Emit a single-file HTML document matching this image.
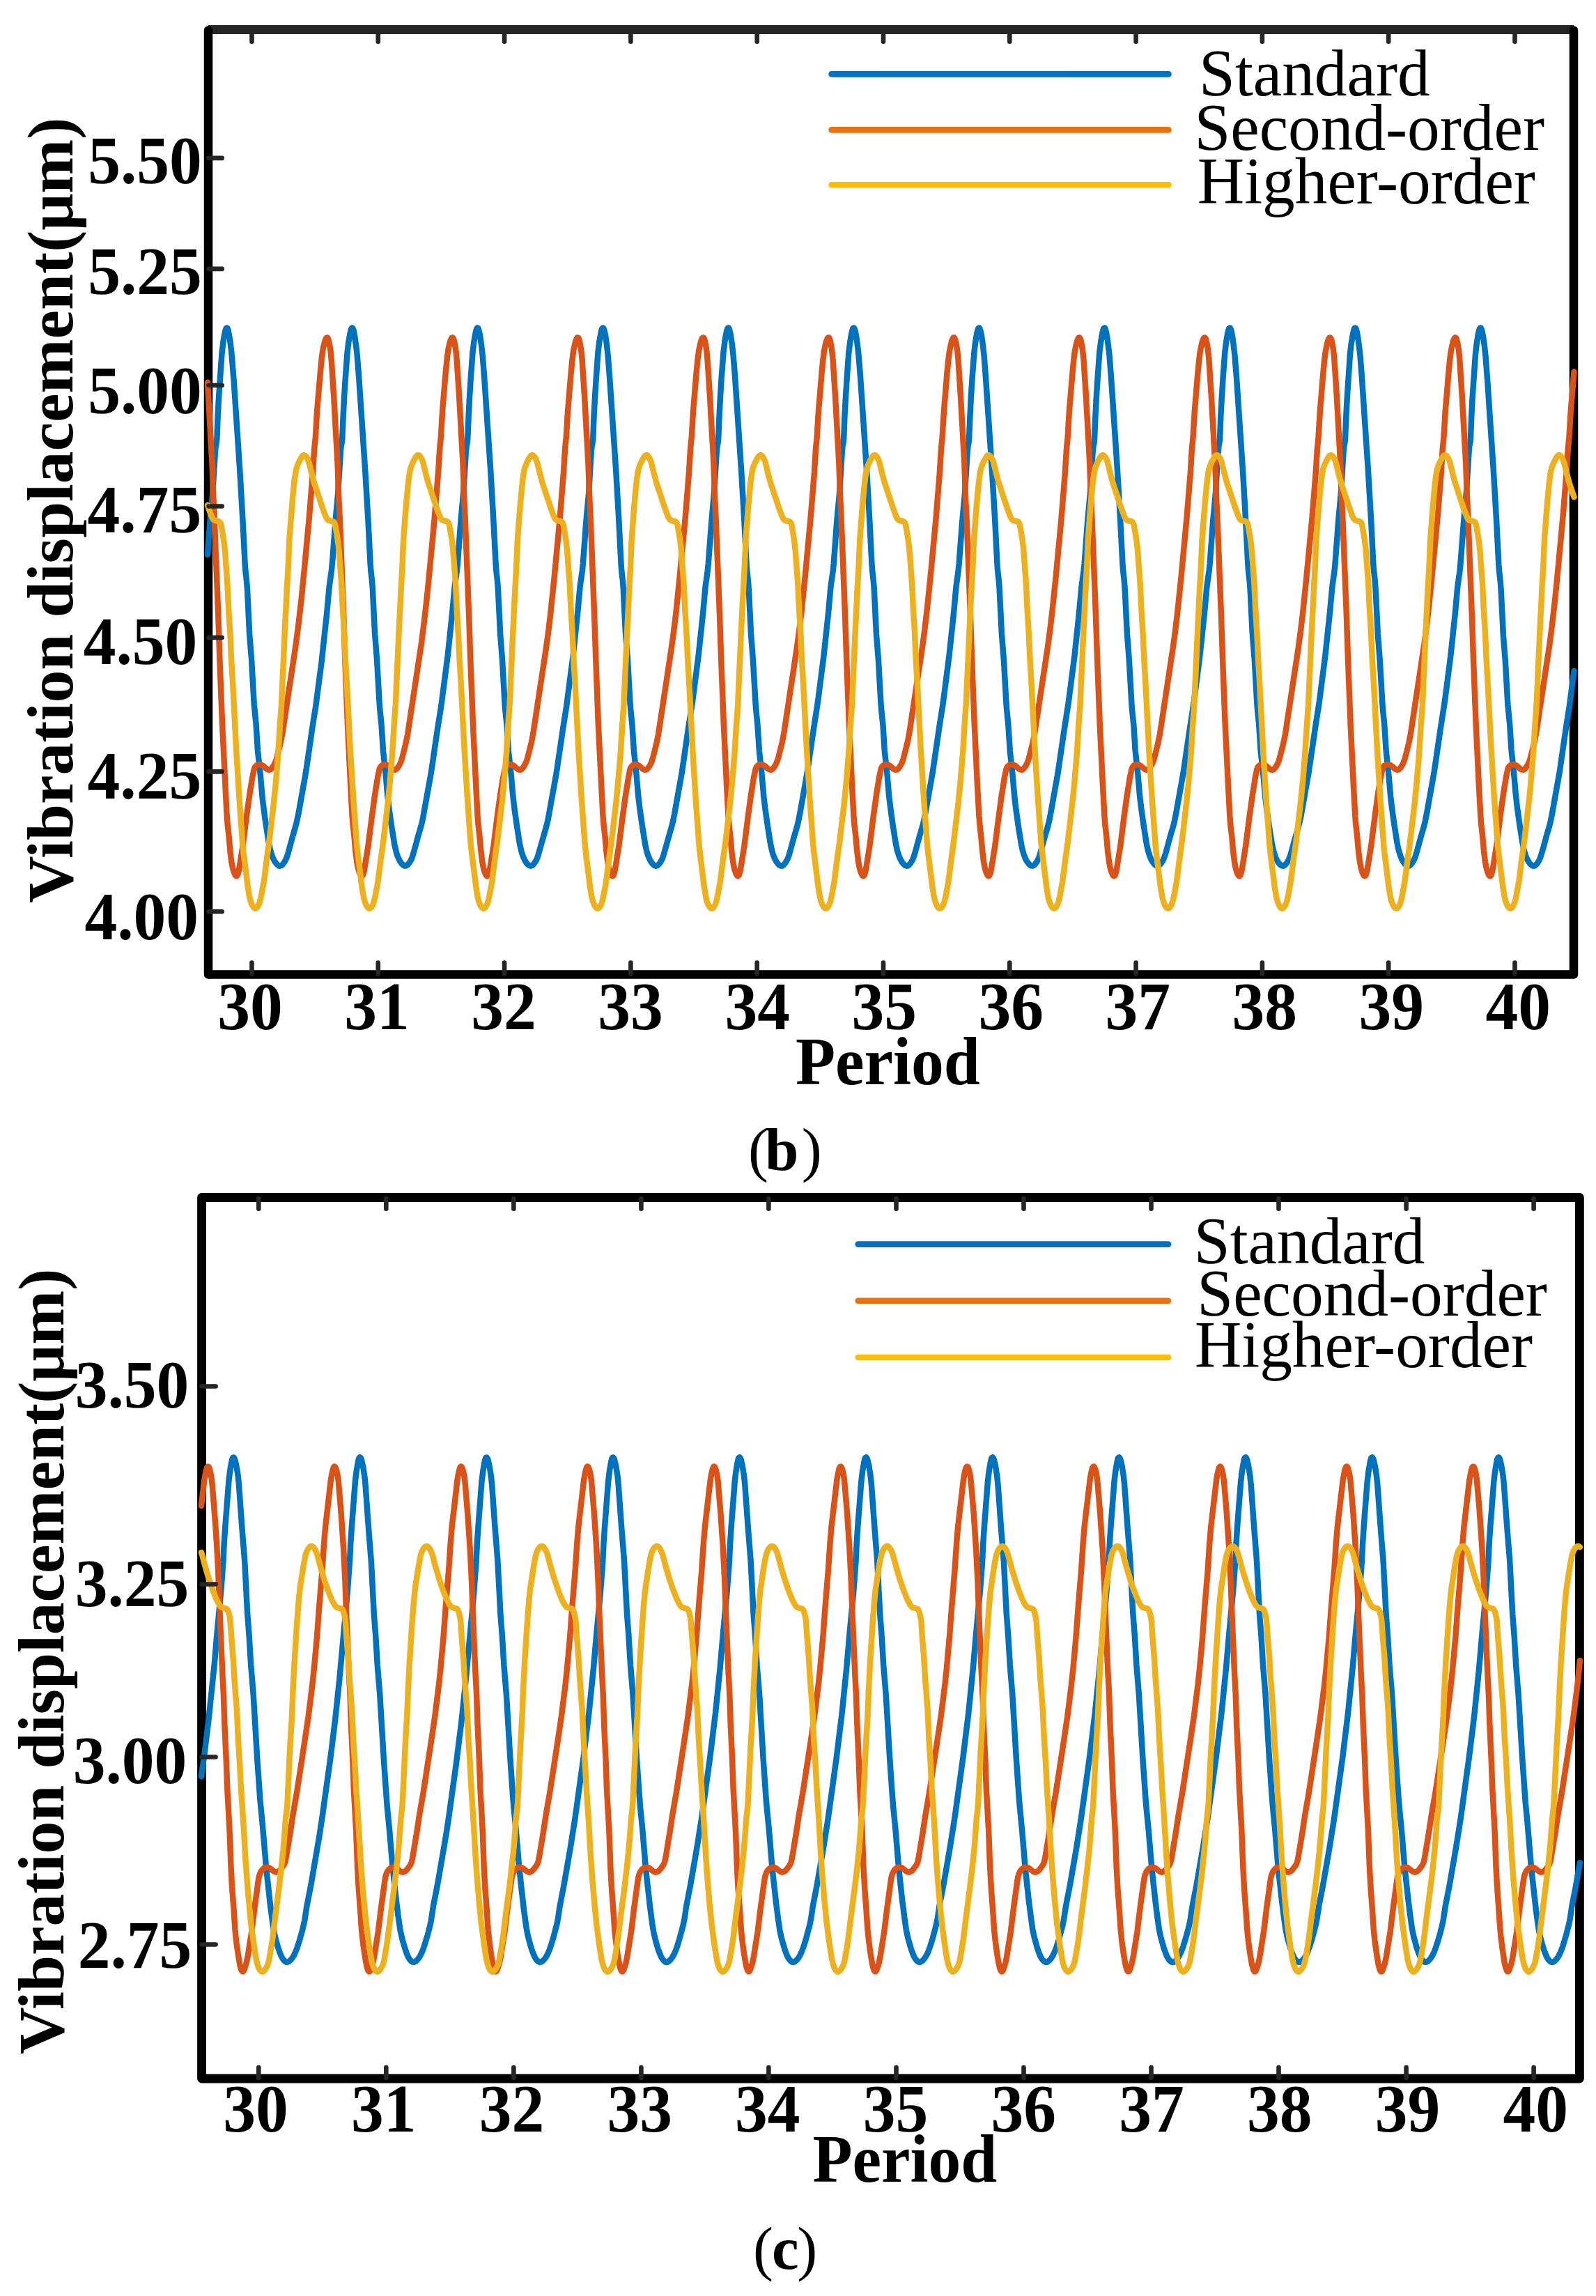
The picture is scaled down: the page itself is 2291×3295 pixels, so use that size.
<!DOCTYPE html>
<html><head><meta charset="utf-8"><title>Vibration displacement</title>
<style>html,body{margin:0;padding:0;background:#fff;overflow:hidden;}svg{display:block;}</style>
</head><body>
<svg xmlns="http://www.w3.org/2000/svg" width="2291" height="3295" viewBox="0 0 2291 3295">
<rect width="2291" height="3295" fill="#fff"/>
<line x1="299.0" y1="42.5" x2="2259.0" y2="42.5" stroke="#262626" stroke-width="12.8"/>
<path d="M299.0 43.5L299.0 1398.5L2259.0 1398.5L2259.0 43.5" fill="none" stroke="#000" stroke-width="12.5" stroke-linejoin="round" stroke-linecap="round"/>
<g fill="none" stroke-width="8.5" stroke-linejoin="round" stroke-linecap="round">
<path stroke="#0072BD" d="M298.0 795.9L301.6 746.5 305.1 709.2 308.9 649.0 309.6 641.1 310.9 634.0 311.4 629.7 312.6 598.0 314.1 569.8 318.5 506.7 320.8 488.1 322.3 479.7 323.6 473.9 324.6 471.3 325.2 470.7 325.7 470.6 326.2 470.8 326.7 471.6 327.7 474.5 329.8 486.0 332.1 503.6 335.7 547.0 344.3 675.2 348.4 745.8 351.6 808.5 352.3 818.2 354.1 834.6 354.9 843.8 358.1 909.3 361.1 946.9 364.7 1010.3 367.6 1039.6 370.0 1077.6 373.6 1109.9 376.7 1145.5 380.4 1174.5 385.9 1209.6 387.7 1218.4 390.1 1226.8 392.2 1232.1 394.4 1236.3 397.1 1239.9 399.7 1242.1 400.7 1242.6 401.8 1242.7 403.8 1242.2 405.8 1240.5 408.2 1237.3 411.0 1232.0 413.3 1225.4 420.3 1199.6 424.9 1183.8 428.2 1168.9 437.3 1118.2 439.9 1102.7 448.4 1044.0 453.2 1013.9 461.5 951.0 468.9 882.6 472.7 841.8 475.9 818.5 477.2 805.1 481.6 746.8 485.1 709.2 488.8 649.3 489.6 641.1 490.9 634.0 491.3 629.7 492.6 598.0 494.1 569.3 495.8 543.4 498.5 506.2 500.5 490.1 503.0 476.3 503.8 472.9 504.7 471.1 505.5 470.5 506.0 470.7 506.5 471.2 507.5 474.0 508.7 479.6 511.6 499.2 512.9 512.1 515.3 543.0 524.2 674.9 528.4 745.6 531.6 808.5 532.3 818.2 534.1 834.6 534.8 843.8 538.1 909.3 541.1 946.9 544.7 1010.0 545.4 1019.0 547.5 1039.6 550.0 1077.6 553.5 1109.9 556.5 1143.5 558.6 1161.6 562.2 1186.4 566.3 1212.0 568.8 1222.7 570.5 1228.0 572.4 1232.6 574.4 1236.3 576.5 1239.4 578.6 1241.4 580.7 1242.6 582.7 1242.6 584.7 1241.5 586.7 1239.4 588.9 1236.1 590.7 1232.7 592.2 1228.8 596.4 1214.1 600.4 1199.2 604.5 1185.2 606.7 1176.3 618.8 1109.3 628.3 1044.5 632.4 1019.1 634.1 1007.2 642.7 940.8 649.2 879.4 652.7 841.8 655.8 819.3 656.9 808.6 661.5 746.8 665.0 709.4 668.8 649.0 669.6 641.1 670.9 634.0 671.3 629.7 672.6 597.8 674.1 568.8 675.8 542.1 678.5 505.5 680.4 490.3 682.8 477.0 683.7 473.4 684.4 471.5 685.2 470.6 685.6 470.6 686.1 470.8 687.1 472.8 688.3 477.7 689.7 485.8 691.2 496.7 692.8 511.1 695.2 541.8 704.2 674.9 708.3 745.6 711.6 808.5 712.3 818.2 714.1 834.6 714.8 843.8 718.1 909.3 721.0 946.9 724.6 1010.0 725.3 1019.0 727.5 1039.6 729.9 1077.6 733.5 1109.9 736.4 1143.0 738.5 1160.6 741.9 1184.9 746.1 1211.5 748.4 1221.5 750.0 1226.8 751.7 1231.2 753.6 1235.0 755.6 1238.2 757.7 1240.6 759.8 1242.2 761.7 1242.7 763.7 1242.2 765.7 1240.5 768.1 1237.3 770.2 1233.6 771.9 1229.5 784.4 1185.5 786.5 1177.0 798.7 1109.6 808.3 1044.3 812.3 1019.4 813.9 1008.0 822.6 941.0 829.2 879.4 832.6 841.8 835.8 819.3 836.9 808.6 841.5 746.8 845.0 709.4 848.7 649.0 849.5 641.1 850.8 634.0 851.3 629.7 852.5 597.8 854.1 568.8 855.8 542.1 858.5 505.5 860.3 490.6 862.7 477.3 863.5 473.6 864.3 471.7 865.2 470.6 866.0 470.7 867.0 472.6 868.2 477.2 869.6 485.0 871.1 495.7 872.7 510.6 875.1 541.3 884.2 674.9 888.3 745.6 891.5 808.5 892.2 818.2 894.0 834.6 894.7 843.8 898.0 909.3 901.0 946.9 904.6 1010.0 905.3 1019.0 907.4 1039.6 909.9 1077.6 913.4 1109.9 916.3 1143.0 918.4 1160.6 921.8 1184.4 926.1 1211.3 928.2 1221.1 929.7 1226.1 931.4 1230.5 933.2 1234.4 935.1 1237.6 937.3 1240.3 939.3 1242.0 941.3 1242.7 943.2 1242.4 945.3 1240.9 947.8 1237.8 950.0 1233.9 951.8 1229.7 964.3 1185.7 966.3 1177.5 968.4 1166.9 978.7 1109.6 988.2 1044.3 993.9 1008.2 1002.6 941.0 1009.2 879.4 1012.6 841.8 1015.7 819.3 1016.8 808.6 1021.5 746.8 1024.9 709.4 1028.7 649.0 1029.5 641.1 1030.8 634.0 1031.2 629.7 1032.5 597.8 1034.0 568.8 1035.7 542.1 1038.5 505.5 1040.3 490.8 1042.5 477.8 1044.1 471.9 1045.0 470.7 1045.8 470.6 1046.4 471.2 1046.9 472.4 1048.0 476.4 1049.4 484.3 1050.9 494.7 1052.6 510.1 1055.1 540.8 1064.1 674.9 1068.3 745.6 1071.5 808.5 1072.2 818.2 1074.0 834.6 1074.7 843.8 1078.0 909.3 1080.9 946.9 1084.6 1010.0 1085.3 1019.0 1087.4 1039.6 1089.9 1077.6 1093.4 1109.9 1096.3 1142.7 1098.3 1160.1 1101.7 1183.9 1106.0 1211.0 1108.1 1220.6 1109.5 1225.6 1111.1 1230.1 1112.9 1233.9 1114.8 1237.2 1116.9 1239.9 1119.1 1241.9 1121.0 1242.7 1122.8 1242.6 1124.9 1241.2 1127.3 1238.4 1129.8 1234.3 1131.7 1230.0 1133.4 1224.5 1140.2 1199.6 1144.3 1185.7 1146.2 1177.7 1148.3 1167.2 1158.6 1109.6 1168.2 1044.3 1173.8 1008.5 1182.5 941.0 1189.1 879.4 1192.5 841.8 1195.7 819.3 1196.8 808.6 1201.4 746.8 1204.9 709.4 1208.7 649.0 1209.4 641.1 1210.7 634.0 1211.2 629.7 1212.4 597.8 1214.0 568.8 1215.7 542.6 1218.4 505.7 1220.2 491.3 1222.4 478.3 1224.0 472.1 1224.8 470.8 1225.6 470.6 1226.2 471.1 1226.8 472.2 1227.8 475.9 1229.2 483.3 1230.7 493.7 1232.5 509.6 1235.0 540.3 1244.1 674.9 1248.2 745.6 1251.4 808.5 1252.1 818.2 1253.9 834.6 1254.7 843.8 1257.9 909.3 1260.9 946.9 1264.5 1010.0 1265.2 1019.0 1267.4 1039.6 1269.8 1077.6 1273.4 1109.9 1276.2 1142.7 1278.3 1160.1 1281.6 1183.9 1285.9 1211.0 1288.0 1220.6 1289.5 1225.6 1291.1 1230.1 1292.9 1233.9 1294.7 1237.2 1296.9 1239.9 1299.1 1241.9 1301.0 1242.7 1302.7 1242.6 1304.9 1241.2 1307.3 1238.4 1309.7 1234.3 1311.6 1230.0 1313.3 1224.5 1320.1 1199.6 1324.2 1185.7 1326.2 1177.7 1328.3 1167.2 1338.6 1109.6 1348.2 1044.3 1353.8 1008.5 1362.5 941.0 1369.1 879.4 1372.5 841.8 1375.6 819.3 1376.7 808.6 1381.4 746.8 1384.9 709.4 1388.6 649.0 1389.4 641.1 1390.7 634.0 1391.1 629.7 1392.4 597.8 1393.9 568.8 1395.6 542.6 1398.4 505.7 1400.1 491.3 1402.3 478.3 1404.0 472.1 1404.8 470.8 1405.6 470.6 1406.2 471.1 1406.7 472.2 1407.8 475.9 1409.2 483.3 1410.7 493.7 1412.5 509.6 1414.9 540.3 1424.0 674.9 1428.2 745.6 1431.4 808.5 1432.1 818.2 1433.9 834.6 1434.6 843.8 1437.9 909.3 1440.9 946.9 1444.5 1010.0 1445.2 1019.0 1447.3 1039.6 1449.8 1077.6 1453.3 1109.9 1456.2 1142.5 1458.2 1159.9 1461.5 1183.6 1465.9 1211.0 1467.9 1220.3 1469.4 1225.4 1471.0 1229.8 1472.7 1233.7 1474.6 1237.0 1476.7 1239.7 1478.8 1241.7 1480.7 1242.6 1482.5 1242.6 1484.7 1241.4 1487.1 1238.6 1489.6 1234.5 1491.5 1230.2 1493.3 1224.5 1500.1 1199.6 1504.2 1185.7 1506.1 1178.0 1508.2 1167.2 1518.5 1109.8 1528.1 1044.3 1533.7 1008.7 1542.5 941.0 1549.0 879.4 1552.5 841.8 1555.6 819.3 1556.7 808.6 1561.3 746.8 1564.8 709.4 1568.6 649.0 1569.4 641.1 1570.7 634.0 1571.1 629.7 1572.4 597.8 1573.9 568.8 1575.6 542.6 1578.3 505.7 1580.1 491.3 1582.3 478.3 1583.9 472.1 1584.8 470.8 1585.6 470.6 1586.1 471.1 1586.7 472.2 1587.7 475.9 1589.1 483.3 1590.6 493.7 1592.5 509.6 1594.9 540.3 1604.0 674.9 1608.1 745.6 1611.4 808.5 1612.1 818.2 1613.9 834.6 1614.6 843.8 1617.9 909.3 1620.8 946.9 1624.4 1010.0 1625.1 1019.0 1627.3 1039.6 1629.7 1077.6 1633.3 1109.9 1636.1 1142.5 1638.2 1159.9 1641.5 1183.4 1645.8 1210.8 1647.8 1220.1 1650.8 1229.6 1652.5 1233.5 1654.4 1236.8 1656.5 1239.6 1658.6 1241.6 1660.4 1242.6 1662.2 1242.7 1663.3 1242.3 1664.5 1241.5 1666.9 1238.8 1669.4 1234.8 1671.4 1230.2 1673.3 1224.5 1680.0 1199.6 1684.1 1186.0 1686.0 1178.2 1688.2 1167.2 1698.5 1109.8 1708.1 1044.3 1713.6 1009.0 1722.4 941.0 1729.0 879.4 1732.4 841.8 1735.6 819.3 1736.7 808.6 1741.3 746.8 1744.8 709.4 1748.5 649.0 1749.3 641.1 1750.6 634.0 1751.1 629.7 1752.3 597.8 1753.9 568.8 1755.6 542.1 1758.3 505.5 1760.1 491.1 1762.3 478.0 1763.9 472.1 1764.7 470.8 1765.5 470.6 1766.1 471.1 1766.7 472.2 1767.7 475.9 1769.1 483.3 1770.6 493.7 1772.4 509.6 1774.9 540.3 1784.0 674.9 1788.1 745.6 1791.3 808.5 1792.0 818.2 1793.8 834.6 1794.5 843.8 1797.8 909.3 1800.8 946.9 1804.4 1010.0 1805.1 1019.0 1807.2 1039.6 1809.7 1077.6 1813.2 1109.9 1816.1 1142.5 1818.1 1159.9 1821.4 1183.4 1825.8 1210.8 1827.8 1220.1 1830.8 1229.6 1832.5 1233.5 1834.3 1236.8 1836.4 1239.6 1838.5 1241.6 1840.4 1242.6 1842.2 1242.7 1843.2 1242.3 1844.4 1241.5 1846.9 1238.8 1849.4 1234.8 1851.4 1230.2 1853.2 1224.5 1860.0 1199.6 1864.0 1186.0 1866.0 1178.2 1868.2 1167.2 1878.4 1109.8 1888.0 1044.3 1893.6 1008.7 1902.3 941.5 1908.9 879.6 1912.4 841.8 1915.4 820.0 1916.3 812.3 1921.3 746.3 1924.7 709.7 1928.5 649.0 1929.3 641.1 1930.6 634.0 1931.0 629.7 1932.3 598.3 1933.7 571.5 1937.9 509.2 1939.5 494.8 1941.9 480.0 1943.7 472.5 1944.5 471.0 1945.4 470.6 1945.9 470.9 1946.5 471.8 1947.6 475.5 1948.9 482.6 1950.4 492.7 1952.4 509.4 1954.8 539.8 1963.9 674.9 1968.1 745.6 1971.3 808.5 1972.0 818.2 1973.8 834.6 1974.5 843.8 1977.8 909.3 1980.7 946.9 1984.4 1010.0 1985.1 1019.0 1987.2 1039.6 1989.7 1077.6 1993.2 1109.9 1996.1 1142.5 1998.1 1159.9 2001.4 1183.4 2005.7 1210.8 2007.7 1220.1 2010.8 1229.6 2012.5 1233.5 2014.3 1236.8 2016.4 1239.6 2018.5 1241.6 2020.4 1242.6 2022.1 1242.7 2023.2 1242.3 2024.4 1241.5 2026.9 1238.8 2029.4 1234.8 2031.4 1230.2 2033.2 1224.5 2040.0 1199.6 2044.0 1186.0 2045.9 1178.2 2048.1 1167.2 2058.4 1109.8 2068.0 1044.3 2073.6 1008.7 2082.3 941.5 2088.9 879.6 2092.3 841.8 2095.4 820.0 2096.2 812.3 2101.3 746.3 2104.7 709.7 2108.5 649.0 2109.2 641.1 2110.5 634.0 2111.0 629.7 2112.2 598.3 2113.6 571.5 2117.9 509.2 2119.5 494.8 2121.8 480.0 2123.6 472.5 2124.4 471.0 2125.3 470.6 2125.9 470.9 2126.5 472.0 2127.6 475.9 2129.2 484.3 2130.8 495.7 2132.5 511.3 2135.3 547.5 2144.0 677.4 2148.0 745.6 2151.4 811.0 2152.1 819.7 2153.9 835.9 2154.6 845.8 2157.9 911.8 2160.7 946.6 2164.4 1011.3 2167.2 1039.6 2169.5 1076.1 2173.0 1108.6 2175.9 1141.0 2177.8 1157.9 2181.2 1182.4 2185.4 1209.1 2186.5 1215.2 2188.0 1221.3 2189.8 1227.3 2191.8 1232.1 2194.0 1236.3 2196.3 1239.6 2198.7 1241.7 2200.8 1242.7 2201.9 1242.7 2202.9 1242.4 2205.1 1240.9 2207.0 1238.6 2208.8 1235.6 2210.4 1232.5 2211.7 1229.0 2216.0 1214.4 2220.1 1198.9 2224.1 1185.5 2225.8 1178.7 2227.7 1169.4 2238.8 1107.4 2248.0 1043.8 2252.7 1014.4 2259.5 962.8"/>
<path stroke="#D95319" d="M298.0 548.8L304.9 672.0 306.2 711.3 307.9 747.0 313.3 883.4 315.5 949.1 319.1 1040.3 325.4 1166.4 326.6 1183.1 328.5 1199.2 330.7 1224.1 332.3 1236.7 334.0 1245.3 335.9 1252.0 337.9 1256.2 338.9 1257.1 339.7 1257.2 340.6 1256.3 341.5 1254.2 342.6 1250.1 343.5 1245.4 348.6 1213.9 353.8 1172.2 358.3 1140.2 362.2 1115.8 364.8 1103.6 365.9 1100.9 367.6 1098.8 369.6 1097.6 372.0 1097.1 374.4 1097.3 376.6 1098.3 378.6 1099.7 382.4 1103.3 385.0 1104.6 386.6 1104.8 387.8 1104.5 389.0 1103.8 390.3 1102.4 392.3 1099.5 394.1 1096.3 395.7 1092.6 397.1 1088.6 402.5 1067.0 405.2 1053.8 424.7 925.0 428.5 895.8 432.5 860.7 436.7 818.7 443.8 743.0 449.1 677.7 451.2 644.1 452.8 628.4 455.1 590.0 459.6 536.9 462.0 512.0 464.0 498.9 465.6 492.4 467.2 487.4 468.3 485.1 469.4 484.4 469.9 484.5 470.5 485.1 471.4 487.2 472.8 493.0 474.2 501.1 475.1 509.3 476.0 519.8 479.2 569.4 484.7 667.5 486.1 711.3 487.9 747.0 493.2 882.1 495.4 949.1 499.0 1040.3 503.2 1126.2 505.5 1169.6 506.5 1182.1 508.4 1199.4 510.3 1220.6 512.3 1237.0 513.9 1245.3 515.8 1251.8 517.7 1256.0 518.7 1257.0 519.5 1257.2 520.6 1256.3 521.4 1254.4 522.5 1250.4 523.4 1245.7 528.5 1213.9 533.8 1172.2 538.2 1140.2 542.1 1115.8 544.7 1103.6 545.9 1100.9 547.6 1098.8 549.6 1097.6 552.0 1097.1 554.4 1097.3 556.6 1098.3 558.6 1099.7 562.4 1103.3 564.9 1104.6 566.5 1104.8 567.8 1104.5 568.9 1103.8 570.3 1102.4 572.3 1099.5 574.1 1096.3 575.7 1092.6 577.1 1088.3 582.5 1066.8 585.2 1053.5 604.7 924.8 608.5 895.5 612.5 860.5 616.7 818.7 623.8 743.0 629.1 677.7 631.2 644.1 632.8 628.4 635.1 590.0 639.5 536.9 642.0 512.3 643.8 499.9 645.1 494.1 646.6 489.0 647.6 486.3 648.7 484.7 649.2 484.4 649.7 484.4 650.7 485.5 652.0 489.6 653.6 497.9 654.8 506.4 655.7 517.1 659.1 567.9 664.6 666.8 666.1 711.3 667.8 747.0 673.1 881.9 675.4 949.1 679.0 1040.5 683.2 1126.7 685.5 1170.1 686.4 1182.3 688.4 1199.4 690.3 1220.6 692.3 1236.7 693.8 1244.8 695.6 1251.3 697.6 1255.8 698.5 1256.9 699.4 1257.3 700.4 1256.5 701.3 1254.7 702.4 1250.6 703.4 1245.7 708.5 1213.9 713.7 1172.2 718.2 1140.2 722.1 1115.8 724.7 1103.6 725.8 1100.9 727.5 1098.8 729.6 1097.6 731.9 1097.1 734.3 1097.3 736.6 1098.3 738.6 1099.7 742.3 1103.3 744.9 1104.6 746.5 1104.8 747.8 1104.5 748.9 1103.8 750.2 1102.4 752.2 1099.5 754.0 1096.3 755.6 1092.6 757.1 1088.3 762.5 1066.8 765.2 1053.5 783.7 931.7 786.9 908.7 790.0 883.1 795.4 831.4 803.6 744.8 809.0 678.0 811.1 644.1 812.7 628.4 815.0 590.7 819.4 538.4 821.4 517.2 823.2 502.9 825.7 491.9 827.0 487.6 828.1 485.3 828.7 484.6 829.3 484.4 830.3 485.0 831.0 486.3 831.7 488.4 833.3 496.4 834.6 505.4 835.6 516.1 839.0 567.4 844.5 666.3 846.1 711.3 847.8 747.0 853.1 881.6 855.4 949.1 858.9 1040.5 863.2 1126.9 865.5 1170.3 866.4 1182.3 868.4 1199.4 870.3 1220.9 872.3 1237.0 873.8 1245.1 875.6 1251.6 877.6 1256.0 878.4 1256.9 879.3 1257.3 880.4 1256.5 881.2 1254.7 882.4 1250.6 883.3 1245.7 888.4 1213.9 893.7 1172.2 898.2 1140.2 902.1 1115.8 904.6 1103.6 905.8 1100.9 907.5 1098.8 909.5 1097.6 911.9 1097.1 914.3 1097.3 916.5 1098.3 918.5 1099.7 922.3 1103.3 924.9 1104.6 926.4 1104.8 927.7 1104.5 928.9 1103.8 930.2 1102.4 932.2 1099.5 934.0 1096.3 935.6 1092.6 937.0 1088.3 942.4 1066.8 945.1 1053.5 963.7 931.2 966.9 907.9 970.1 881.9 975.4 830.6 983.6 744.5 989.0 678.0 991.1 644.1 992.7 628.4 995.0 590.7 999.3 538.4 1001.3 517.5 1003.1 503.6 1005.4 492.9 1006.7 488.3 1007.8 485.6 1009.0 484.4 1009.5 484.4 1010.0 484.7 1010.8 485.9 1011.4 487.7 1013.1 495.2 1014.4 504.4 1015.5 515.6 1018.9 566.9 1024.5 666.0 1026.0 711.3 1027.7 747.0 1033.0 881.6 1035.3 949.1 1038.9 1040.5 1043.1 1127.2 1045.5 1170.6 1046.4 1182.3 1048.3 1199.4 1050.2 1221.1 1052.2 1237.0 1053.8 1245.1 1055.6 1251.6 1057.6 1256.0 1058.4 1256.9 1059.3 1257.3 1060.3 1256.5 1061.2 1254.7 1062.3 1250.6 1063.3 1245.7 1068.4 1213.9 1073.7 1172.2 1078.1 1140.2 1082.0 1115.8 1084.6 1103.6 1085.8 1100.9 1087.4 1098.8 1089.5 1097.6 1091.8 1097.1 1094.2 1097.3 1096.5 1098.3 1098.5 1099.7 1102.3 1103.3 1104.8 1104.6 1106.4 1104.8 1107.7 1104.5 1108.8 1103.8 1110.1 1102.4 1112.1 1099.5 1114.0 1096.3 1115.5 1092.6 1117.0 1088.3 1122.5 1066.5 1125.1 1053.3 1143.7 930.9 1146.9 907.7 1150.1 881.4 1155.4 830.4 1163.5 744.5 1169.0 678.0 1171.0 644.1 1172.6 628.4 1174.9 590.7 1179.3 538.6 1181.2 517.7 1182.9 504.1 1185.1 493.6 1186.5 488.8 1187.7 485.8 1188.8 484.5 1189.2 484.4 1189.9 484.6 1190.7 485.7 1191.3 487.4 1192.9 494.5 1194.3 503.9 1195.5 515.1 1198.9 566.7 1204.4 665.8 1206.0 711.3 1207.7 747.0 1213.0 881.4 1215.3 949.1 1218.9 1040.5 1223.1 1127.2 1225.4 1170.6 1226.3 1182.3 1228.3 1199.4 1230.2 1221.1 1232.2 1237.0 1233.7 1245.1 1235.6 1251.6 1237.6 1256.0 1238.4 1256.9 1239.2 1257.3 1240.3 1256.5 1241.2 1254.7 1242.3 1250.6 1243.3 1245.7 1248.4 1213.9 1253.6 1172.2 1258.1 1140.2 1262.0 1115.8 1264.6 1103.6 1265.7 1100.9 1267.4 1098.8 1269.4 1097.6 1271.8 1097.1 1274.2 1097.3 1276.4 1098.3 1278.4 1099.7 1282.2 1103.3 1284.8 1104.6 1286.4 1104.8 1287.6 1104.5 1288.8 1103.8 1290.1 1102.4 1292.1 1099.5 1293.9 1096.3 1295.5 1092.6 1296.9 1088.3 1302.4 1066.5 1305.1 1053.3 1323.7 930.7 1326.9 907.2 1330.1 880.6 1335.4 830.1 1343.5 744.5 1348.9 678.0 1351.0 644.1 1352.6 628.4 1354.9 590.7 1359.2 538.6 1361.2 518.0 1362.9 504.3 1365.0 494.1 1366.4 489.0 1367.6 486.0 1368.6 484.6 1369.2 484.4 1369.7 484.5 1370.4 485.3 1371.1 487.0 1372.8 494.0 1374.3 503.6 1375.4 514.8 1378.8 566.4 1384.4 665.8 1385.9 711.3 1387.7 747.0 1392.9 881.4 1395.2 949.1 1398.8 1040.5 1403.0 1127.2 1405.4 1170.8 1406.3 1182.3 1408.2 1199.4 1410.2 1221.1 1412.1 1237.0 1413.7 1245.1 1415.5 1251.6 1417.5 1256.0 1418.3 1256.9 1419.2 1257.3 1420.2 1256.5 1421.1 1254.7 1422.3 1250.6 1423.2 1245.7 1428.3 1213.9 1433.6 1172.2 1438.0 1140.2 1441.9 1115.8 1444.5 1103.6 1445.7 1100.9 1447.4 1098.8 1449.4 1097.6 1451.8 1097.1 1454.2 1097.3 1456.4 1098.3 1458.4 1099.7 1462.2 1103.3 1464.7 1104.6 1466.3 1104.8 1467.6 1104.5 1468.7 1103.8 1470.1 1102.4 1472.1 1099.5 1473.9 1096.3 1475.5 1092.6 1476.9 1088.3 1482.4 1066.5 1485.0 1053.3 1503.7 930.7 1506.9 907.2 1510.1 880.6 1515.4 830.1 1523.5 744.5 1528.9 678.0 1531.0 644.1 1532.6 628.4 1534.8 590.7 1539.2 538.6 1541.1 518.0 1542.8 504.3 1544.9 494.1 1546.4 489.0 1547.5 486.0 1548.6 484.6 1549.1 484.4 1549.7 484.5 1550.4 485.3 1551.1 487.0 1552.7 494.0 1554.2 503.6 1555.4 514.8 1558.8 566.4 1564.3 665.8 1565.9 711.3 1567.6 747.0 1572.9 881.4 1575.2 949.1 1578.8 1040.5 1583.0 1127.2 1585.4 1170.8 1586.2 1182.3 1588.2 1199.4 1590.1 1221.1 1592.1 1237.0 1593.6 1245.1 1595.5 1251.6 1597.5 1256.0 1598.3 1256.9 1599.2 1257.3 1600.2 1256.5 1601.1 1254.7 1602.2 1250.6 1603.2 1245.7 1608.3 1213.9 1613.5 1172.2 1618.0 1140.2 1621.9 1115.8 1624.5 1103.6 1625.6 1100.9 1627.3 1098.8 1629.4 1097.6 1631.7 1097.1 1634.1 1097.3 1636.4 1098.3 1638.4 1099.7 1642.1 1103.3 1644.7 1104.6 1646.3 1104.8 1647.6 1104.5 1648.7 1103.8 1650.0 1102.4 1652.0 1099.5 1653.8 1096.3 1655.4 1092.6 1656.9 1088.3 1662.3 1066.5 1665.0 1053.3 1683.6 930.7 1686.9 906.9 1690.1 880.1 1695.4 829.6 1703.4 744.3 1708.9 677.7 1710.9 644.1 1712.5 628.4 1714.8 590.7 1719.1 538.6 1721.1 518.2 1722.7 504.6 1724.8 494.5 1726.2 489.5 1727.4 486.3 1728.4 484.7 1729.0 484.4 1729.5 484.4 1730.2 485.1 1731.0 486.7 1732.6 493.5 1734.1 503.1 1735.3 514.6 1738.7 566.2 1744.3 665.5 1745.9 711.3 1747.6 747.0 1752.9 881.4 1755.2 949.1 1758.7 1040.5 1763.0 1127.2 1765.3 1170.8 1766.2 1182.3 1768.2 1199.4 1770.1 1221.1 1772.1 1237.0 1773.6 1245.1 1775.4 1251.6 1777.4 1256.0 1778.2 1256.9 1779.1 1257.3 1780.2 1256.5 1781.0 1254.7 1782.2 1250.6 1783.1 1245.7 1788.2 1213.9 1793.5 1172.2 1798.0 1140.2 1801.9 1115.8 1804.4 1103.6 1805.6 1100.9 1807.3 1098.8 1809.3 1097.6 1811.7 1097.1 1814.1 1097.3 1816.3 1098.3 1818.3 1099.7 1822.1 1103.3 1824.7 1104.6 1826.2 1104.8 1827.5 1104.5 1828.7 1103.8 1830.0 1102.4 1832.0 1099.5 1833.8 1096.3 1835.4 1092.6 1836.8 1088.3 1842.3 1066.5 1845.0 1053.3 1863.6 930.7 1866.8 906.9 1870.1 880.1 1875.3 829.6 1883.4 744.3 1888.8 677.7 1890.9 644.1 1892.5 628.4 1894.8 590.7 1899.1 538.6 1901.0 518.2 1902.7 504.6 1904.7 494.5 1906.1 489.5 1907.3 486.3 1908.4 484.7 1908.9 484.4 1909.4 484.4 1910.2 485.1 1910.9 486.7 1912.6 493.5 1914.1 503.1 1915.3 514.6 1918.7 566.2 1924.2 665.5 1925.8 711.3 1927.5 747.0 1932.8 881.4 1935.1 949.1 1938.7 1040.5 1942.9 1127.2 1945.3 1170.8 1946.2 1182.3 1948.1 1199.4 1950.0 1221.1 1952.0 1237.0 1953.6 1245.1 1955.4 1251.6 1957.4 1256.0 1958.2 1256.9 1959.1 1257.3 1960.1 1256.5 1961.0 1254.7 1962.1 1250.6 1963.1 1245.7 1968.2 1213.9 1973.5 1172.2 1977.9 1140.2 1981.8 1115.8 1984.4 1103.6 1985.6 1100.9 1987.2 1098.8 1989.3 1097.6 1991.6 1097.1 1994.0 1097.3 1996.3 1098.3 1998.3 1099.7 2002.1 1103.3 2004.6 1104.6 2006.2 1104.8 2007.5 1104.5 2008.6 1103.8 2009.9 1102.4 2011.9 1099.5 2013.8 1096.3 2015.3 1092.6 2016.8 1088.3 2022.3 1066.5 2024.9 1053.3 2043.5 930.7 2046.8 906.9 2050.0 880.1 2055.3 829.6 2063.4 744.3 2068.8 677.7 2070.8 644.1 2072.4 628.4 2074.7 590.7 2079.1 538.6 2081.0 518.2 2082.7 504.6 2084.7 494.5 2086.1 489.5 2087.3 486.3 2088.3 484.7 2088.9 484.4 2089.4 484.4 2090.1 485.1 2090.9 486.7 2092.5 493.5 2094.1 503.1 2095.2 514.6 2098.6 566.2 2104.2 665.5 2105.8 711.3 2107.5 747.0 2112.8 881.4 2115.1 949.1 2118.7 1040.5 2122.9 1127.2 2125.3 1170.8 2126.1 1182.3 2128.1 1199.4 2130.0 1220.9 2131.9 1236.7 2133.5 1244.8 2135.2 1251.1 2137.1 1255.6 2138.0 1256.8 2138.9 1257.3 2139.5 1257.1 2140.0 1256.7 2140.9 1254.9 2142.0 1250.8 2143.0 1245.9 2148.2 1213.9 2153.4 1172.2 2157.9 1140.2 2161.8 1115.8 2164.4 1103.6 2165.5 1100.9 2167.2 1098.8 2169.2 1097.6 2171.6 1097.1 2174.0 1097.3 2176.2 1098.3 2178.2 1099.7 2182.0 1103.3 2184.6 1104.6 2186.2 1104.8 2187.4 1104.5 2188.6 1103.8 2189.9 1102.4 2191.9 1099.5 2193.7 1096.3 2195.3 1092.6 2196.7 1088.3 2202.3 1066.3 2205.0 1052.8 2224.4 924.8 2228.1 895.8 2232.1 861.0 2236.4 817.9 2243.5 741.8 2248.7 677.7 2250.8 644.1 2252.4 628.4 2254.6 592.2 2259.5 533.4"/>
<path stroke="#EDB120" d="M298.0 725.1L302.3 737.7 304.4 742.5 305.7 744.9 306.9 746.1 308.3 746.9 313.3 748.0 314.6 748.5 315.8 749.5 316.8 751.1 317.6 754.0 319.7 766.3 322.1 782.6 323.0 791.6 326.4 837.7 328.2 874.2 330.4 909.6 332.0 945.8 334.3 983.0 339.2 1077.4 343.6 1147.2 348.2 1210.5 349.4 1222.5 355.6 1271.6 357.8 1285.4 359.4 1292.5 361.4 1297.9 362.6 1300.3 363.9 1302.1 365.1 1303.2 366.2 1303.7 367.7 1303.3 369.4 1301.8 371.1 1298.8 372.7 1294.9 374.5 1287.8 378.6 1266.2 380.0 1256.6 382.5 1236.0 386.2 1209.2 393.1 1150.9 395.5 1127.8 399.3 1081.7 401.8 1041.3 404.0 1011.8 408.7 907.7 412.0 842.0 413.6 815.8 415.5 772.1 420.1 714.5 422.6 689.4 424.7 675.8 426.0 670.8 427.8 665.8 430.5 660.2 433.3 655.5 434.9 653.8 436.4 653.2 438.0 653.7 439.6 655.3 441.7 658.7 443.3 662.9 448.3 683.0 451.0 692.9 463.6 730.6 467.2 740.2 469.0 744.0 470.6 746.1 472.7 747.2 476.8 748.0 478.1 748.4 479.6 749.5 480.5 751.1 481.3 754.0 483.6 766.8 486.0 783.6 490.0 834.5 492.0 874.2 494.2 909.6 495.8 945.8 498.0 983.0 502.9 1077.6 507.4 1148.0 512.2 1213.5 519.4 1272.3 521.9 1286.9 523.7 1294.2 525.9 1299.4 527.2 1301.5 528.3 1302.8 529.6 1303.6 530.8 1303.6 532.2 1302.8 533.9 1300.8 535.5 1297.7 536.8 1293.9 538.5 1287.1 542.6 1264.5 546.2 1236.2 550.2 1207.7 557.0 1149.9 559.7 1122.3 563.2 1080.4 565.6 1041.3 567.8 1011.3 572.5 908.2 575.8 842.0 577.4 815.6 579.1 774.4 582.8 726.3 586.2 691.4 587.5 681.5 588.9 673.9 590.6 668.4 593.2 662.4 596.5 656.3 597.7 654.7 598.9 653.6 600.0 653.2 601.2 653.4 602.5 654.2 603.7 655.7 605.6 659.0 607.1 662.9 612.0 683.0 614.8 692.9 627.3 730.4 630.9 740.0 632.8 744.0 634.4 746.1 636.5 747.2 640.6 748.0 642.1 748.5 643.5 749.7 644.4 751.4 645.1 754.0 647.0 764.3 648.9 776.7 650.4 789.8 654.0 837.2 655.7 874.2 657.9 909.6 659.6 945.8 661.8 983.0 666.7 1077.4 671.1 1147.5 675.8 1211.5 677.0 1222.7 683.2 1271.8 685.5 1286.4 687.3 1293.7 689.5 1299.0 690.7 1301.1 691.9 1302.6 693.2 1303.5 694.3 1303.7 695.8 1303.0 697.5 1301.0 699.1 1297.9 700.5 1294.1 702.2 1287.1 706.3 1265.0 710.0 1236.2 713.9 1208.0 720.8 1149.9 723.4 1123.0 727.0 1080.7 729.4 1041.3 731.6 1011.3 736.3 908.2 739.6 842.0 741.2 815.6 742.9 774.4 746.6 726.5 749.9 691.9 751.1 682.7 752.4 675.1 753.7 670.3 755.7 665.2 759.3 658.0 761.8 654.4 762.8 653.5 764.0 653.2 765.2 653.4 766.4 654.4 768.8 657.8 770.8 662.7 776.0 683.5 778.7 693.1 791.2 730.8 794.8 740.4 796.5 744.0 798.2 746.1 800.3 747.2 804.4 748.0 805.9 748.5 807.3 749.7 808.2 751.4 808.9 754.0 810.7 764.1 812.6 776.2 814.1 789.6 817.7 837.2 819.5 874.2 821.7 909.6 823.4 945.8 825.6 983.0 830.5 1077.4 834.9 1147.5 839.6 1211.5 840.8 1222.7 846.9 1271.8 849.3 1286.4 851.1 1293.7 853.3 1299.0 854.5 1301.1 855.7 1302.6 857.0 1303.5 858.1 1303.7 859.6 1303.0 861.3 1301.0 862.9 1297.9 864.3 1294.1 866.0 1287.1 870.1 1265.0 873.8 1236.2 877.7 1208.0 884.6 1149.9 887.2 1123.0 890.8 1080.7 893.2 1041.3 895.4 1011.3 900.1 908.2 903.4 842.0 904.9 815.6 906.7 774.4 910.3 726.8 913.6 692.2 914.8 683.0 916.1 675.6 917.3 670.8 919.1 666.1 922.5 659.1 925.2 654.7 926.2 653.8 927.4 653.2 928.6 653.3 929.7 653.9 930.8 655.1 932.2 657.2 934.6 662.7 939.7 683.5 942.4 693.1 955.0 730.8 958.7 740.7 960.5 744.2 962.0 746.1 964.1 747.2 968.1 748.0 969.7 748.5 971.1 749.7 972.0 751.4 972.7 754.0 974.4 763.8 976.4 775.9 977.9 789.6 981.5 837.2 983.3 874.2 985.5 909.6 987.2 945.8 989.4 983.0 994.3 1077.4 998.7 1147.5 1003.4 1211.5 1004.6 1222.7 1010.7 1271.8 1013.1 1286.4 1014.9 1293.7 1017.0 1299.0 1018.3 1301.1 1019.5 1302.6 1020.7 1303.5 1021.9 1303.7 1023.4 1303.0 1025.1 1301.0 1026.7 1297.9 1028.1 1294.1 1029.8 1287.1 1033.9 1265.0 1037.5 1236.2 1041.5 1208.0 1048.3 1149.9 1051.0 1123.0 1054.5 1080.7 1057.0 1041.3 1059.2 1011.3 1063.8 908.2 1067.2 842.0 1068.7 815.6 1070.5 774.4 1074.1 726.8 1077.4 692.4 1078.5 683.5 1079.8 676.1 1080.9 671.5 1082.6 666.8 1085.8 660.0 1088.9 654.9 1089.9 653.9 1091.0 653.3 1092.0 653.2 1093.1 653.7 1094.5 654.9 1095.8 657.0 1097.2 659.6 1098.4 662.7 1103.5 683.5 1106.2 693.1 1118.9 731.1 1122.6 740.9 1124.4 744.4 1126.0 746.2 1127.9 747.2 1131.9 748.0 1133.5 748.5 1134.9 749.7 1135.8 751.4 1136.5 754.0 1138.2 763.8 1140.1 775.9 1141.7 789.6 1145.3 837.2 1147.1 874.2 1149.3 909.6 1150.9 945.8 1153.2 983.0 1158.1 1077.4 1162.5 1147.5 1167.2 1211.3 1168.3 1222.5 1174.5 1271.8 1176.8 1286.2 1178.5 1293.2 1180.6 1298.5 1181.9 1300.9 1183.1 1302.5 1184.3 1303.4 1185.5 1303.7 1186.3 1303.5 1187.2 1303.0 1188.7 1301.2 1190.5 1297.9 1191.9 1294.1 1193.5 1287.4 1197.6 1265.2 1201.3 1236.2 1205.2 1208.2 1212.1 1150.1 1214.7 1123.8 1218.3 1080.9 1220.7 1041.3 1223.0 1011.3 1227.6 908.2 1230.9 842.0 1232.5 815.6 1234.3 774.4 1237.9 726.8 1241.2 692.4 1242.3 683.7 1243.5 676.3 1244.6 671.7 1246.3 667.0 1249.3 660.4 1252.5 655.1 1253.5 654.1 1254.6 653.4 1255.6 653.2 1256.7 653.5 1257.9 654.6 1259.4 656.5 1260.9 659.4 1262.1 662.4 1267.3 683.5 1270.0 693.1 1282.7 731.1 1286.4 740.9 1288.1 744.4 1289.7 746.2 1291.6 747.2 1295.7 748.0 1297.2 748.5 1298.6 749.7 1299.5 751.4 1300.4 754.7 1303.9 775.7 1305.5 789.6 1309.1 837.2 1310.9 874.2 1313.1 909.6 1314.7 945.8 1316.9 983.0 1321.8 1077.4 1326.2 1147.5 1330.9 1211.3 1332.1 1222.5 1338.3 1271.8 1340.6 1286.2 1342.3 1293.2 1344.4 1298.5 1345.7 1300.9 1346.9 1302.5 1348.1 1303.4 1349.3 1303.7 1350.0 1303.5 1351.0 1303.0 1352.5 1301.2 1354.2 1297.9 1355.7 1294.1 1357.3 1287.4 1361.4 1265.2 1365.1 1236.2 1369.0 1208.0 1375.9 1150.1 1378.5 1123.5 1382.1 1080.7 1384.5 1041.3 1386.7 1011.3 1391.4 908.2 1394.7 842.0 1396.3 815.6 1398.0 774.4 1401.7 727.0 1404.9 692.7 1406.0 684.0 1407.2 676.6 1408.3 672.0 1409.8 667.5 1412.7 661.1 1416.1 655.3 1417.1 654.2 1418.1 653.4 1419.1 653.2 1420.3 653.4 1421.7 654.6 1423.0 656.3 1424.6 659.2 1425.9 662.4 1431.1 683.8 1433.9 693.4 1446.5 731.3 1450.2 741.1 1451.9 744.4 1453.5 746.2 1455.4 747.2 1459.5 748.0 1461.0 748.5 1462.4 749.7 1463.3 751.4 1464.2 754.7 1467.7 775.7 1469.3 789.6 1472.9 837.2 1474.6 874.2 1476.8 909.6 1478.5 945.8 1480.7 983.0 1485.6 1077.4 1490.0 1147.5 1494.7 1211.3 1495.9 1222.5 1502.1 1271.8 1504.4 1286.2 1506.1 1293.2 1508.2 1298.5 1509.5 1300.9 1510.7 1302.5 1511.9 1303.4 1513.0 1303.7 1513.8 1303.5 1514.7 1303.0 1516.3 1301.2 1518.0 1297.9 1519.4 1294.1 1521.1 1287.4 1525.2 1265.2 1528.9 1236.2 1532.8 1208.0 1539.6 1150.1 1542.3 1123.5 1545.9 1080.7 1548.3 1041.3 1550.5 1011.3 1555.2 908.2 1558.5 842.0 1560.1 815.6 1561.8 774.4 1565.4 727.0 1568.7 692.7 1569.8 684.0 1571.0 676.8 1572.0 672.2 1573.5 667.7 1576.4 661.3 1579.8 655.5 1580.8 654.2 1581.9 653.4 1582.9 653.2 1583.9 653.4 1585.3 654.4 1586.8 656.3 1588.3 659.2 1589.6 662.4 1594.9 683.8 1597.6 693.4 1610.3 731.3 1614.0 741.1 1615.7 744.4 1617.3 746.2 1619.2 747.2 1623.3 748.0 1624.8 748.5 1626.2 749.7 1627.1 751.4 1627.9 754.7 1631.4 775.4 1633.0 789.6 1636.6 837.0 1638.4 874.2 1640.6 909.6 1642.3 945.8 1644.5 983.0 1649.4 1077.4 1653.8 1147.5 1658.5 1211.3 1659.6 1222.5 1665.8 1271.8 1668.2 1286.2 1669.9 1293.2 1671.9 1298.5 1673.3 1300.9 1674.4 1302.5 1675.7 1303.4 1676.8 1303.7 1677.6 1303.5 1678.5 1303.0 1680.0 1301.2 1681.8 1297.9 1683.2 1294.1 1684.9 1287.4 1689.0 1265.2 1692.7 1236.2 1696.6 1208.0 1703.4 1150.1 1706.1 1123.5 1709.7 1080.7 1712.1 1041.3 1714.3 1011.3 1719.0 908.2 1722.3 842.0 1723.8 815.6 1725.6 774.4 1729.2 727.0 1732.5 692.7 1733.6 684.0 1734.7 676.8 1735.8 672.2 1737.3 667.7 1740.2 661.3 1743.5 655.5 1744.6 654.2 1745.7 653.4 1746.7 653.2 1747.7 653.4 1749.1 654.4 1750.6 656.3 1752.1 659.2 1753.4 662.4 1758.7 683.8 1761.4 693.4 1774.1 731.3 1777.8 741.1 1779.5 744.4 1781.1 746.2 1783.0 747.2 1787.0 748.0 1788.6 748.5 1790.0 749.7 1790.9 751.4 1791.7 754.7 1795.2 775.4 1796.8 789.6 1800.4 837.0 1802.2 874.2 1804.4 909.6 1806.1 945.8 1808.3 983.0 1813.2 1077.4 1817.6 1147.5 1822.3 1211.3 1823.4 1222.5 1829.6 1271.8 1831.9 1286.2 1833.7 1293.2 1835.7 1298.5 1837.1 1300.9 1838.2 1302.5 1839.5 1303.4 1840.6 1303.7 1841.4 1303.5 1842.3 1303.0 1843.8 1301.2 1845.6 1297.9 1847.0 1294.1 1848.7 1287.4 1852.7 1265.2 1856.4 1236.2 1860.4 1208.0 1867.2 1150.1 1869.9 1123.5 1873.4 1080.7 1875.9 1041.3 1878.1 1011.3 1882.7 908.2 1886.1 842.0 1887.6 815.6 1889.4 774.4 1893.0 727.0 1896.2 692.9 1897.3 684.2 1898.5 677.1 1899.5 672.4 1901.0 667.9 1903.7 661.8 1907.2 655.7 1908.2 654.4 1909.3 653.5 1910.3 653.2 1911.3 653.3 1912.7 654.2 1914.2 656.1 1915.9 659.2 1917.2 662.4 1922.5 683.8 1925.2 693.4 1938.0 731.6 1941.7 741.4 1943.3 744.4 1944.9 746.2 1946.8 747.2 1950.8 748.0 1952.4 748.5 1953.8 749.7 1954.7 751.4 1955.5 754.7 1959.0 775.4 1960.6 789.6 1964.2 837.0 1966.0 874.2 1968.2 909.6 1969.8 945.8 1972.1 983.0 1977.0 1077.4 1981.4 1147.5 1986.1 1211.3 1987.2 1222.5 1993.4 1271.8 1995.7 1286.2 1997.4 1293.2 1999.5 1298.5 2000.8 1300.9 2002.0 1302.5 2003.2 1303.4 2004.4 1303.7 2005.2 1303.5 2006.1 1303.0 2007.6 1301.2 2009.4 1297.9 2010.8 1294.1 2012.4 1287.4 2016.5 1265.2 2020.2 1236.2 2024.1 1208.0 2031.0 1150.1 2033.6 1123.5 2037.2 1080.7 2039.6 1041.3 2041.9 1011.3 2046.5 908.2 2049.8 842.0 2051.4 815.6 2053.2 774.4 2056.8 727.0 2060.0 692.9 2061.1 684.2 2062.3 677.1 2063.3 672.4 2064.8 667.9 2067.5 661.8 2071.0 655.7 2072.0 654.4 2073.1 653.5 2074.0 653.2 2075.0 653.3 2076.5 654.2 2078.0 656.1 2079.7 659.2 2081.0 662.4 2086.3 683.8 2089.0 693.4 2101.7 731.6 2105.5 741.4 2107.0 744.4 2108.6 746.2 2110.5 747.2 2114.6 748.0 2116.1 748.5 2117.5 749.7 2118.4 751.4 2119.3 754.7 2122.7 775.4 2124.4 789.6 2128.0 837.0 2129.8 874.2 2132.0 909.6 2133.6 945.8 2135.8 983.0 2140.7 1077.4 2145.1 1147.5 2149.8 1211.3 2151.0 1222.5 2157.2 1271.8 2159.5 1286.2 2161.2 1293.2 2163.3 1298.5 2164.6 1300.9 2165.8 1302.5 2167.0 1303.4 2168.2 1303.7 2169.7 1303.1 2171.2 1301.4 2173.0 1298.1 2174.5 1294.4 2176.2 1287.4 2180.3 1265.5 2181.6 1256.3 2184.0 1236.0 2187.9 1208.5 2194.7 1150.4 2197.3 1125.0 2201.0 1081.2 2203.4 1041.3 2205.6 1011.6 2210.3 907.9 2213.6 842.0 2215.2 815.8 2217.0 773.4 2221.2 720.0 2223.7 693.6 2225.2 681.7 2226.4 675.1 2227.7 670.3 2229.7 665.2 2232.5 659.6 2234.7 655.7 2236.5 653.8 2237.4 653.3 2238.2 653.2 2239.2 653.4 2240.1 654.1 2241.4 655.5 2242.7 657.6 2244.9 662.9 2251.6 689.6 2255.2 701.0 2259.5 713.3"/>
</g>
<path d="M361.5 1381.5V1397.5M361.5 44.0V59.8M542.8 1381.5V1397.5M542.8 44.0V59.8M724.1 1381.5V1397.5M724.1 44.0V59.8M905.4 1381.5V1397.5M905.4 44.0V59.8M1086.7 1381.5V1397.5M1086.7 44.0V59.8M1268.0 1381.5V1397.5M1268.0 44.0V59.8M1449.3 1381.5V1397.5M1449.3 44.0V59.8M1630.6 1381.5V1397.5M1630.6 44.0V59.8M1811.9 1381.5V1397.5M1811.9 44.0V59.8M1993.2 1381.5V1397.5M1993.2 44.0V59.8M2174.5 1381.5V1397.5M2174.5 44.0V59.8M299.5 226.9H318.7M299.5 385.9H318.7M299.5 553.0H318.7M299.5 726.5H318.7M299.5 915.0H318.7M299.5 1107.4H318.7M299.5 1308.3H318.7" stroke="#262626" stroke-width="6.6" stroke-linecap="round" fill="none"/>
<g stroke-width="8.6" stroke-linecap="round">
<line x1="1193.6" y1="106.4" x2="1677.5" y2="106.4" stroke="#0071C3"/>
<line x1="1193.6" y1="186.4" x2="1677.5" y2="186.4" stroke="#E97110"/>
<line x1="1193.6" y1="265.3" x2="1677.5" y2="265.3" stroke="#FDBE02"/>
</g>
<text transform="translate(1721.0 137.3) scale(1 1.026)" style='font-family:"Liberation Serif","Times New Roman",serif;font-weight:normal;font-size:93.3px'>Standard</text>
<text transform="translate(1714.4 214.5) scale(1 1.026)" style='font-family:"Liberation Serif","Times New Roman",serif;font-weight:normal;font-size:93.3px'>Second-order</text>
<text transform="translate(1718.8 291.6) scale(1 1.026)" style='font-family:"Liberation Serif","Times New Roman",serif;font-weight:normal;font-size:93.3px'>Higher-order</text>
<text transform="translate(126.2 263.0) scale(1 1.030)" style='font-family:"Liberation Serif","Times New Roman",serif;font-weight:bold;font-size:93.5px'>5.50</text>
<text transform="translate(126.2 422.0) scale(1 1.030)" style='font-family:"Liberation Serif","Times New Roman",serif;font-weight:bold;font-size:93.5px'>5.25</text>
<text transform="translate(126.2 592.7) scale(1 1.030)" style='font-family:"Liberation Serif","Times New Roman",serif;font-weight:bold;font-size:93.5px'>5.00</text>
<text transform="translate(125.6 764.0) scale(1 1.030)" style='font-family:"Liberation Serif","Times New Roman",serif;font-weight:bold;font-size:93.5px'>4.75</text>
<text transform="translate(119.7 952.7) scale(1 1.030)" style='font-family:"Liberation Serif","Times New Roman",serif;font-weight:bold;font-size:93.5px'>4.50</text>
<text transform="translate(125.6 1145.7) scale(1 1.030)" style='font-family:"Liberation Serif","Times New Roman",serif;font-weight:bold;font-size:93.5px'>4.25</text>
<text transform="translate(121.4 1348.0) scale(1 1.030)" style='font-family:"Liberation Serif","Times New Roman",serif;font-weight:bold;font-size:93.5px'>4.00</text>
<text transform="translate(312.2 1476.5) scale(1 1.030)" style='font-family:"Liberation Serif","Times New Roman",serif;font-weight:bold;font-size:93.5px'>30</text>
<text transform="translate(494.3 1476.5) scale(1 1.030)" style='font-family:"Liberation Serif","Times New Roman",serif;font-weight:bold;font-size:93.5px'>31</text>
<text transform="translate(676.3 1476.5) scale(1 1.030)" style='font-family:"Liberation Serif","Times New Roman",serif;font-weight:bold;font-size:93.5px'>32</text>
<text transform="translate(858.3 1476.5) scale(1 1.030)" style='font-family:"Liberation Serif","Times New Roman",serif;font-weight:bold;font-size:93.5px'>33</text>
<text transform="translate(1040.4 1476.5) scale(1 1.030)" style='font-family:"Liberation Serif","Times New Roman",serif;font-weight:bold;font-size:93.5px'>34</text>
<text transform="translate(1222.4 1476.5) scale(1 1.030)" style='font-family:"Liberation Serif","Times New Roman",serif;font-weight:bold;font-size:93.5px'>35</text>
<text transform="translate(1404.4 1476.5) scale(1 1.030)" style='font-family:"Liberation Serif","Times New Roman",serif;font-weight:bold;font-size:93.5px'>36</text>
<text transform="translate(1586.5 1476.5) scale(1 1.030)" style='font-family:"Liberation Serif","Times New Roman",serif;font-weight:bold;font-size:93.5px'>37</text>
<text transform="translate(1768.5 1476.5) scale(1 1.030)" style='font-family:"Liberation Serif","Times New Roman",serif;font-weight:bold;font-size:93.5px'>38</text>
<text transform="translate(1950.5 1476.5) scale(1 1.030)" style='font-family:"Liberation Serif","Times New Roman",serif;font-weight:bold;font-size:93.5px'>39</text>
<text transform="translate(2132.6 1476.5) scale(1 1.030)" style='font-family:"Liberation Serif","Times New Roman",serif;font-weight:bold;font-size:93.5px'>40</text>
<text transform="translate(104.0 1296.0) rotate(-90)" x="-0.0" style='font-family:"Liberation Serif","Times New Roman",serif;font-weight:bold;font-size:93.5px'>Vibration displacement(μm)</text>
<text transform="translate(1142.0 1556.4) scale(1 1.030)" style='font-family:"Liberation Serif","Times New Roman",serif;font-weight:bold;font-size:93.5px'>Period</text>
<text y="1679.2" style='font-family:"Liberation Serif","Times New Roman",serif;font-size:87.0px'><tspan x="1073.9">(</tspan><tspan x="1098.0" style="font-weight:bold">b</tspan><tspan x="1150.8">)</tspan></text>
<path d="M289.5 1718.5L2267.4 1718.5L2267.4 2983.0L289.5 2983.0Z" fill="none" stroke="#000" stroke-width="12.8" stroke-linejoin="round"/>
<g fill="none" stroke-width="8.5" stroke-linejoin="round" stroke-linecap="round">
<path stroke="#0072BD" d="M289.0 2549.5L293.3 2518.5 299.2 2470.6 307.8 2388.0 311.3 2346.9 317.8 2276.7 320.4 2241.8 321.7 2214.9 323.3 2190.7 328.6 2123.6 330.7 2107.3 332.9 2095.5 333.7 2092.9 334.6 2091.7 335.1 2091.4 335.5 2091.5 336.4 2092.7 338.2 2098.3 340.2 2108.6 341.8 2119.2 342.9 2130.2 347.4 2192.7 351.2 2239.8 355.2 2316.2 357.6 2346.9 360.2 2389.8 363.7 2431.9 369.3 2525.2 373.4 2582.6 377.3 2623.9 382.0 2679.2 388.1 2735.1 391.9 2763.4 394.1 2775.7 396.3 2784.9 398.8 2793.8 401.8 2802.3 404.1 2807.9 406.1 2811.3 408.4 2814.2 410.6 2815.7 412.5 2815.9 414.9 2814.9 417.6 2812.4 420.1 2809.3 422.4 2805.2 426.2 2796.4 430.2 2783.8 434.3 2769.1 437.3 2756.0 440.2 2736.7 446.9 2702.1 458.7 2633.1 462.3 2609.4 474.1 2524.9 481.1 2468.4 487.2 2410.9 498.2 2291.2 501.9 2242.8 503.3 2214.4 505.1 2188.2 510.0 2124.9 512.0 2109.3 514.2 2096.9 515.0 2093.8 515.7 2092.2 516.5 2091.4 517.4 2091.7 518.2 2093.1 519.1 2095.6 521.3 2105.6 523.2 2118.0 524.5 2130.2 529.0 2192.7 532.8 2239.8 536.8 2316.2 539.2 2346.9 541.8 2389.8 545.3 2431.9 550.9 2525.2 554.9 2581.6 555.9 2594.1 558.9 2624.7 563.4 2677.2 568.2 2722.0 571.4 2748.3 574.6 2770.3 577.7 2783.9 581.8 2797.8 584.3 2804.7 586.1 2808.7 588.2 2812.1 590.6 2814.7 592.6 2815.8 594.6 2815.8 596.9 2814.6 599.4 2812.2 601.7 2809.3 603.7 2805.8 606.1 2800.6 608.2 2795.3 614.1 2775.9 617.0 2764.8 618.7 2757.2 621.8 2736.4 628.4 2702.6 640.1 2634.6 643.9 2609.9 654.9 2530.9 662.5 2469.9 668.6 2411.9 679.7 2292.2 683.5 2242.8 684.9 2214.1 686.7 2187.7 691.6 2124.9 693.5 2110.0 695.6 2097.7 697.1 2092.5 697.9 2091.6 698.7 2091.5 699.6 2092.7 700.5 2094.9 702.6 2104.4 704.8 2117.5 706.1 2130.2 710.6 2192.7 714.4 2239.8 718.4 2316.2 720.8 2346.9 723.4 2389.8 726.9 2431.9 732.5 2525.0 736.4 2580.6 737.5 2594.1 740.6 2625.2 744.9 2675.7 748.5 2710.3 752.1 2741.6 755.5 2766.1 757.5 2776.9 761.0 2790.2 763.2 2797.4 766.0 2804.9 767.7 2808.7 769.6 2811.7 771.8 2814.3 774.0 2815.7 775.1 2815.9 776.2 2815.8 778.5 2814.6 781.2 2812.0 783.7 2808.7 786.1 2804.3 788.6 2798.3 790.9 2791.9 794.6 2779.7 799.4 2761.4 800.9 2753.8 803.6 2735.7 809.4 2705.8 818.8 2651.8 825.6 2608.6 837.6 2522.2 845.3 2458.9 852.0 2394.0 856.2 2345.9 862.1 2283.2 865.2 2242.3 866.5 2214.9 868.1 2190.9 873.1 2126.4 874.9 2111.5 877.1 2098.4 878.6 2092.7 879.4 2091.7 880.2 2091.5 881.1 2092.5 882.0 2094.7 884.2 2104.2 886.4 2117.5 887.7 2130.4 892.2 2192.5 896.0 2239.8 900.0 2316.2 902.4 2346.9 905.0 2389.8 908.5 2431.9 914.1 2525.0 918.0 2579.6 919.1 2593.8 922.3 2625.9 926.3 2674.2 928.9 2699.4 933.0 2735.9 936.4 2761.7 938.3 2773.0 941.0 2784.4 943.1 2792.1 945.2 2798.6 947.9 2805.6 949.9 2809.8 952.4 2813.3 954.7 2815.3 955.8 2815.8 956.9 2815.9 958.0 2815.8 959.3 2815.2 962.1 2812.8 964.9 2809.3 967.2 2805.2 969.9 2799.2 972.3 2792.7 975.8 2780.9 980.8 2762.1 982.5 2754.0 985.2 2735.5 991.0 2705.8 1000.3 2652.6 1007.2 2609.1 1019.2 2522.2 1027.0 2458.7 1033.6 2394.0 1037.8 2345.9 1043.7 2283.2 1046.8 2242.3 1048.1 2214.9 1049.7 2190.9 1054.7 2126.4 1056.4 2112.0 1058.6 2098.9 1060.1 2092.9 1060.8 2091.8 1061.7 2091.4 1062.6 2092.3 1063.5 2094.2 1065.7 2103.4 1067.9 2117.2 1069.3 2130.4 1073.8 2192.5 1077.6 2239.8 1081.6 2316.2 1084.0 2346.9 1086.6 2389.8 1090.1 2431.9 1095.7 2525.0 1099.5 2579.4 1100.7 2593.8 1103.9 2625.9 1107.9 2674.0 1110.2 2696.6 1114.0 2730.4 1116.9 2753.2 1119.3 2769.8 1121.9 2781.8 1126.2 2796.7 1129.1 2804.7 1131.0 2809.0 1133.5 2812.7 1135.9 2815.1 1138.1 2815.9 1139.2 2815.9 1140.2 2815.5 1143.0 2813.5 1146.1 2809.9 1148.5 2805.8 1151.2 2799.9 1153.6 2793.4 1157.2 2781.9 1162.3 2762.6 1164.1 2754.0 1166.8 2735.5 1172.6 2706.0 1181.8 2653.1 1188.7 2609.9 1200.8 2522.2 1208.6 2458.7 1215.2 2394.0 1219.4 2345.9 1225.3 2283.2 1228.4 2242.3 1229.7 2214.9 1231.3 2190.9 1236.3 2126.4 1238.0 2112.0 1240.2 2098.9 1241.7 2092.9 1242.4 2091.8 1243.3 2091.4 1244.2 2092.3 1245.1 2094.2 1247.3 2103.4 1249.5 2117.2 1250.9 2130.4 1255.4 2192.5 1259.2 2239.8 1263.2 2316.2 1265.6 2346.9 1268.2 2389.8 1271.7 2431.9 1277.3 2525.0 1281.1 2579.4 1282.3 2593.8 1285.5 2626.2 1289.5 2673.7 1291.7 2695.6 1295.4 2729.2 1298.3 2751.7 1300.8 2769.3 1303.3 2781.0 1307.6 2796.2 1310.5 2804.2 1312.5 2808.7 1314.8 2812.3 1317.4 2815.0 1319.4 2815.9 1320.5 2815.9 1321.6 2815.6 1324.4 2813.7 1327.5 2810.1 1330.0 2806.1 1332.6 2800.4 1335.1 2793.6 1338.6 2782.4 1343.8 2762.8 1345.7 2754.0 1348.4 2735.5 1354.2 2706.0 1363.4 2653.1 1370.3 2609.9 1382.4 2522.2 1390.2 2458.7 1396.8 2394.0 1401.0 2345.9 1406.9 2283.2 1410.0 2242.3 1411.3 2214.9 1412.9 2190.9 1417.9 2126.4 1419.6 2112.0 1421.8 2098.9 1423.3 2092.9 1424.0 2091.8 1424.9 2091.4 1425.8 2092.3 1426.7 2094.2 1428.9 2103.4 1431.1 2117.2 1432.5 2130.4 1437.0 2192.5 1440.8 2239.8 1444.8 2316.2 1447.2 2346.9 1449.8 2389.8 1453.3 2431.9 1458.9 2525.0 1462.7 2579.4 1463.9 2593.8 1467.1 2626.2 1471.1 2673.7 1473.2 2694.9 1476.9 2728.4 1479.8 2751.0 1482.3 2768.8 1484.8 2780.6 1489.1 2796.0 1492.0 2804.0 1494.0 2808.5 1496.2 2812.1 1498.8 2814.8 1500.8 2815.9 1501.9 2815.9 1503.0 2815.7 1504.3 2815.0 1505.8 2813.8 1509.0 2810.3 1511.5 2806.3 1514.1 2800.6 1516.7 2793.8 1520.1 2782.9 1525.4 2763.1 1527.2 2754.2 1530.0 2735.5 1535.8 2706.0 1545.0 2653.3 1551.8 2610.1 1564.0 2522.2 1571.8 2458.7 1578.4 2394.0 1582.6 2345.9 1588.5 2283.2 1591.6 2242.3 1592.9 2214.9 1594.5 2190.9 1599.5 2126.4 1601.2 2112.0 1603.4 2098.9 1604.9 2092.9 1605.6 2091.8 1606.5 2091.4 1607.4 2092.3 1608.3 2094.2 1610.5 2103.4 1612.7 2117.2 1614.1 2130.4 1618.6 2192.5 1622.4 2239.8 1626.4 2316.2 1628.8 2346.9 1631.4 2389.8 1634.9 2431.9 1640.5 2525.0 1644.3 2579.4 1645.5 2593.8 1648.7 2626.2 1652.7 2673.7 1654.7 2694.1 1658.4 2727.4 1661.2 2750.0 1663.8 2768.3 1666.2 2779.8 1670.6 2795.5 1673.5 2803.7 1675.5 2808.3 1677.7 2811.9 1680.2 2814.7 1682.2 2815.8 1683.3 2815.9 1684.4 2815.8 1685.7 2815.2 1687.2 2814.0 1690.4 2810.5 1692.9 2806.5 1695.6 2800.8 1698.2 2794.1 1701.6 2783.1 1704.2 2774.0 1707.0 2763.1 1708.8 2754.2 1711.6 2735.5 1717.4 2706.0 1726.5 2653.6 1733.4 2610.4 1745.6 2522.2 1753.4 2458.7 1760.0 2394.0 1764.2 2345.9 1770.1 2283.2 1773.2 2242.3 1774.5 2214.9 1776.1 2190.9 1781.1 2126.4 1782.8 2112.0 1785.0 2098.9 1786.5 2092.9 1787.2 2091.8 1788.1 2091.4 1789.0 2092.3 1789.9 2094.2 1792.1 2103.4 1794.3 2117.2 1795.7 2130.4 1800.2 2192.5 1804.0 2239.8 1808.0 2316.2 1810.4 2346.9 1813.0 2389.8 1816.5 2431.9 1822.1 2525.0 1825.9 2579.1 1827.1 2593.8 1830.3 2626.2 1834.2 2673.5 1836.2 2693.4 1839.9 2726.7 1842.7 2749.3 1845.4 2768.1 1847.7 2779.3 1852.1 2795.2 1854.9 2803.3 1857.0 2808.1 1859.2 2811.7 1861.6 2814.5 1863.8 2815.8 1865.8 2815.8 1867.1 2815.3 1868.5 2814.3 1871.7 2810.9 1874.3 2806.9 1877.0 2801.3 1879.6 2794.5 1882.9 2784.1 1885.7 2774.4 1888.5 2763.3 1890.4 2754.2 1893.2 2735.5 1899.0 2706.0 1908.1 2653.8 1915.0 2610.6 1927.2 2522.4 1935.0 2458.7 1941.6 2394.0 1945.8 2345.9 1951.7 2283.2 1954.8 2242.3 1956.1 2214.9 1957.7 2190.9 1962.7 2126.4 1964.4 2112.0 1966.6 2098.9 1968.1 2092.9 1968.8 2091.8 1969.7 2091.4 1970.6 2092.3 1971.5 2094.2 1973.7 2103.4 1975.9 2117.2 1977.3 2130.4 1981.8 2192.5 1985.6 2239.8 1989.6 2316.2 1992.0 2346.9 1994.6 2389.8 1998.1 2431.9 2003.7 2525.0 2007.5 2579.1 2008.7 2593.8 2011.9 2626.2 2015.8 2673.5 2017.8 2693.4 2021.5 2726.7 2024.3 2749.3 2027.0 2768.1 2029.3 2779.3 2033.7 2795.2 2036.5 2803.3 2038.6 2808.1 2040.8 2811.7 2043.2 2814.5 2045.4 2815.8 2047.4 2815.8 2048.7 2815.3 2050.1 2814.3 2053.3 2810.9 2055.9 2806.9 2058.6 2801.3 2061.2 2794.5 2064.5 2784.1 2067.3 2774.4 2070.1 2763.3 2072.0 2754.2 2074.8 2735.5 2080.6 2706.0 2089.7 2653.8 2096.6 2610.6 2108.8 2522.2 2114.0 2480.8 2116.6 2458.4 2123.2 2394.0 2127.4 2345.9 2133.3 2283.2 2136.4 2242.3 2137.7 2214.9 2139.3 2190.9 2144.3 2126.6 2146.0 2112.5 2148.1 2099.4 2149.6 2093.2 2150.3 2091.9 2151.2 2091.4 2152.0 2092.0 2152.9 2093.7 2154.9 2101.7 2157.3 2115.5 2158.7 2128.2 2163.4 2192.7 2167.2 2239.6 2171.2 2316.5 2173.6 2346.9 2176.2 2389.8 2179.6 2431.7 2185.4 2526.0 2189.7 2586.3 2192.9 2619.4 2197.3 2671.8 2199.3 2691.7 2205.0 2742.3 2207.9 2763.4 2209.5 2773.2 2212.6 2785.9 2216.0 2797.4 2219.7 2807.2 2221.3 2810.1 2223.0 2812.5 2224.6 2814.3 2226.2 2815.5 2227.7 2815.9 2229.2 2815.8 2231.1 2814.8 2233.1 2813.0 2235.2 2810.5 2237.0 2807.8 2240.4 2800.8 2243.4 2792.9 2248.2 2776.9 2252.1 2761.6 2253.7 2753.8 2256.4 2735.5 2261.9 2707.5 2267.9 2673.2"/>
<path stroke="#D95319" d="M289.0 2161.1L293.4 2123.3 295.5 2112.0 296.5 2108.1 297.3 2105.9 298.2 2104.7 299.2 2104.8 300.1 2105.9 300.9 2108.2 303.1 2117.7 304.5 2128.8 308.7 2180.4 311.1 2216.1 312.9 2248.3 314.3 2280.2 315.7 2319.5 319.5 2405.4 320.9 2431.6 322.4 2475.6 324.8 2526.8 326.2 2565.7 329.6 2628.4 331.5 2678.1 333.0 2707.3 335.6 2740.5 337.4 2769.1 339.2 2786.3 341.6 2803.4 344.3 2819.4 345.3 2823.5 346.5 2827.1 347.5 2828.8 348.4 2829.4 349.1 2829.2 349.8 2828.4 351.5 2824.1 353.8 2816.4 355.6 2807.9 361.3 2771.8 365.4 2738.3 370.9 2698.2 371.8 2693.0 373.0 2689.2 374.8 2685.4 377.1 2682.5 379.4 2680.7 382.2 2679.8 384.6 2679.9 386.9 2680.8 388.7 2682.0 392.3 2685.0 394.6 2686.3 396.9 2686.7 399.1 2686.0 400.9 2684.7 403.1 2682.4 407.3 2676.8 409.0 2673.0 410.4 2667.4 416.6 2630.2 420.6 2603.7 426.1 2572.2 436.5 2504.7 442.6 2463.9 448.4 2417.6 450.7 2395.9 454.9 2350.1 458.2 2305.5 462.5 2253.7 465.1 2214.8 467.1 2191.1 475.0 2123.3 476.4 2115.4 477.9 2108.8 478.9 2105.9 479.5 2105.1 480.1 2104.6 480.8 2104.8 481.5 2105.6 482.9 2109.4 484.5 2116.7 485.7 2124.6 489.6 2170.7 493.2 2223.8 495.5 2270.2 497.2 2316.7 500.9 2401.9 502.5 2431.1 504.0 2475.8 506.4 2526.8 507.8 2567.0 511.2 2627.4 513.1 2679.6 514.9 2711.3 517.1 2740.0 519.1 2770.1 521.2 2788.8 523.4 2804.6 526.0 2819.7 527.0 2823.8 528.1 2827.1 529.1 2828.8 530.0 2829.4 530.7 2829.2 531.4 2828.4 533.1 2824.1 535.4 2816.4 537.2 2807.9 542.9 2771.8 547.0 2738.3 552.5 2698.2 553.4 2693.0 554.6 2689.2 556.4 2685.4 558.7 2682.5 561.0 2680.7 563.8 2679.8 566.2 2679.9 568.5 2680.8 570.3 2682.0 573.9 2685.0 576.2 2686.3 578.5 2686.7 580.7 2686.0 582.5 2684.7 584.7 2682.4 588.9 2676.8 590.6 2673.0 592.0 2667.4 598.2 2630.2 602.2 2603.7 607.7 2572.2 618.1 2504.7 624.2 2463.9 630.0 2417.6 632.3 2395.9 636.5 2350.1 639.8 2305.5 644.1 2253.7 646.7 2214.8 648.7 2191.1 656.6 2123.3 658.0 2115.4 659.5 2108.8 660.5 2105.9 661.1 2105.1 661.7 2104.6 662.4 2104.8 663.1 2105.6 664.5 2109.4 666.1 2116.7 667.3 2124.6 671.2 2170.7 674.8 2223.8 677.1 2270.2 678.8 2316.7 682.5 2401.9 684.1 2431.1 685.6 2475.8 688.0 2526.8 689.4 2567.0 692.8 2627.4 694.7 2679.6 696.5 2711.3 698.7 2740.0 700.7 2770.1 702.8 2788.8 705.0 2804.6 707.6 2819.7 708.6 2823.8 709.7 2827.1 710.7 2828.8 711.6 2829.4 712.3 2829.2 713.0 2828.4 714.7 2824.1 717.0 2816.4 718.8 2807.9 724.5 2771.8 728.6 2738.3 734.1 2698.2 735.0 2693.0 736.2 2689.2 738.0 2685.4 740.3 2682.5 742.6 2680.7 745.4 2679.8 747.8 2679.9 750.1 2680.8 751.9 2682.0 755.5 2685.0 757.8 2686.3 760.1 2686.7 762.3 2686.0 764.1 2684.7 766.3 2682.4 770.5 2676.8 772.2 2673.0 773.6 2667.4 779.8 2630.2 783.8 2603.7 789.3 2572.2 799.7 2504.7 805.8 2463.9 811.6 2417.6 813.9 2395.9 818.1 2350.1 821.4 2305.5 825.7 2253.7 828.3 2214.8 830.3 2191.1 838.2 2123.3 839.6 2115.4 841.1 2108.8 842.1 2105.9 842.7 2105.1 843.3 2104.6 844.0 2104.8 844.7 2105.6 846.1 2109.4 847.7 2116.7 848.9 2124.6 852.8 2170.7 856.4 2223.8 858.7 2270.2 860.4 2316.7 864.1 2401.9 865.7 2431.1 867.2 2475.8 869.6 2526.8 871.0 2567.0 874.4 2627.4 876.3 2679.6 878.1 2711.3 880.3 2740.2 882.3 2769.9 884.2 2787.3 886.4 2803.6 889.1 2819.2 890.1 2823.3 891.2 2826.8 892.2 2828.7 893.1 2829.4 893.8 2829.3 894.5 2828.5 895.9 2825.3 898.5 2816.9 900.3 2808.1 906.1 2771.8 910.2 2738.3 915.7 2698.2 916.6 2693.0 917.8 2689.2 919.6 2685.4 921.9 2682.5 924.2 2680.7 927.0 2679.8 929.4 2679.9 931.7 2680.8 933.5 2682.0 937.1 2685.0 939.4 2686.3 941.7 2686.7 943.9 2686.0 945.7 2684.7 947.9 2682.4 952.1 2676.8 953.8 2673.0 955.2 2667.4 961.4 2630.2 965.4 2603.7 970.9 2572.2 981.3 2504.7 987.4 2463.9 993.2 2417.6 995.5 2395.9 999.7 2350.1 1003.0 2305.5 1007.3 2253.7 1009.9 2214.8 1011.9 2191.1 1019.8 2123.3 1021.2 2115.4 1022.7 2108.8 1023.7 2105.9 1024.3 2105.1 1024.9 2104.6 1025.6 2104.8 1026.3 2105.6 1027.7 2109.4 1029.3 2116.7 1030.5 2124.6 1034.4 2170.7 1038.0 2223.8 1040.3 2270.2 1042.0 2316.7 1045.7 2401.9 1047.3 2431.1 1048.8 2475.8 1051.2 2526.8 1052.6 2567.0 1056.0 2627.4 1057.9 2679.6 1059.7 2711.3 1061.9 2740.2 1063.9 2769.9 1065.8 2787.3 1068.0 2803.6 1070.7 2819.2 1071.7 2823.3 1072.8 2826.8 1073.8 2828.7 1074.7 2829.4 1075.4 2829.3 1076.1 2828.5 1077.5 2825.3 1080.1 2816.9 1081.9 2808.1 1087.7 2771.8 1091.8 2738.3 1097.3 2698.2 1098.2 2693.0 1099.4 2689.2 1101.2 2685.4 1103.5 2682.5 1105.8 2680.7 1108.6 2679.8 1111.0 2679.9 1113.3 2680.8 1115.1 2682.0 1118.7 2685.0 1121.0 2686.3 1123.3 2686.7 1125.5 2686.0 1127.3 2684.7 1129.5 2682.4 1133.7 2676.8 1135.4 2673.0 1136.8 2667.4 1143.0 2630.2 1147.0 2603.7 1152.5 2572.2 1162.9 2504.7 1169.0 2463.9 1174.8 2417.6 1177.1 2395.9 1181.3 2350.1 1184.6 2305.5 1188.9 2253.7 1191.5 2214.8 1193.5 2191.1 1201.4 2123.6 1202.7 2115.9 1204.2 2109.1 1205.3 2105.9 1206.4 2104.7 1207.2 2104.8 1207.9 2105.6 1209.2 2109.1 1210.9 2116.4 1212.0 2124.3 1216.0 2170.4 1219.5 2223.3 1221.9 2270.2 1223.6 2316.7 1227.3 2402.1 1228.9 2431.1 1230.4 2475.8 1232.8 2526.8 1234.2 2567.0 1237.6 2627.4 1239.5 2679.6 1241.3 2711.3 1243.5 2740.2 1245.5 2769.9 1247.4 2787.3 1249.6 2803.6 1252.3 2819.2 1253.3 2823.3 1254.4 2826.8 1255.4 2828.7 1256.3 2829.4 1257.0 2829.3 1257.7 2828.5 1259.1 2825.3 1261.7 2816.9 1263.5 2808.1 1269.3 2771.8 1273.4 2738.3 1278.9 2698.2 1279.8 2693.0 1281.0 2689.2 1282.8 2685.4 1285.1 2682.5 1287.4 2680.7 1290.2 2679.8 1292.6 2679.9 1294.9 2680.8 1296.7 2682.0 1300.3 2685.0 1302.6 2686.3 1304.9 2686.7 1307.1 2686.0 1308.9 2684.7 1311.1 2682.4 1315.3 2676.8 1317.0 2673.0 1318.4 2667.4 1324.6 2630.2 1328.6 2603.7 1334.1 2572.2 1344.5 2504.7 1350.6 2463.9 1356.4 2417.6 1358.7 2395.9 1362.9 2350.1 1366.2 2305.5 1370.5 2253.7 1373.1 2214.8 1375.1 2191.1 1383.0 2123.6 1384.3 2115.9 1385.8 2109.1 1386.9 2105.9 1388.0 2104.7 1388.8 2104.8 1389.5 2105.6 1390.8 2109.1 1392.5 2116.4 1393.6 2124.3 1397.6 2170.4 1401.1 2223.3 1403.5 2270.2 1405.2 2316.7 1408.9 2402.1 1410.5 2431.1 1412.0 2475.8 1414.4 2526.8 1415.8 2567.0 1419.2 2627.4 1421.1 2679.6 1422.9 2711.3 1425.1 2740.2 1427.1 2769.9 1429.0 2787.3 1431.2 2803.6 1433.9 2819.2 1434.9 2823.3 1436.0 2826.8 1437.0 2828.7 1437.9 2829.4 1438.6 2829.3 1439.3 2828.5 1440.7 2825.3 1443.3 2816.9 1445.1 2808.1 1450.9 2771.8 1455.0 2738.3 1460.5 2698.2 1461.4 2693.0 1462.6 2689.2 1464.4 2685.4 1466.7 2682.5 1469.0 2680.7 1471.8 2679.8 1474.2 2679.9 1476.5 2680.8 1478.3 2682.0 1481.9 2685.0 1484.2 2686.3 1486.5 2686.7 1488.7 2686.0 1490.5 2684.7 1492.7 2682.4 1496.9 2676.8 1498.6 2673.0 1500.0 2667.4 1506.2 2630.2 1510.2 2603.7 1515.7 2572.2 1526.1 2504.7 1532.2 2463.9 1538.0 2417.6 1540.3 2395.9 1544.5 2350.1 1547.8 2305.5 1552.1 2253.7 1554.7 2215.0 1556.6 2191.3 1564.6 2123.8 1565.8 2116.4 1567.3 2109.6 1568.3 2106.3 1569.4 2104.7 1570.1 2104.6 1570.8 2105.2 1572.3 2108.6 1574.1 2116.2 1575.2 2124.1 1579.1 2170.2 1582.7 2222.8 1585.1 2270.2 1586.8 2316.7 1590.5 2402.1 1592.1 2431.1 1593.6 2475.8 1596.0 2526.8 1597.4 2567.0 1600.8 2627.4 1602.7 2679.6 1604.5 2711.3 1606.7 2740.2 1608.7 2769.6 1610.4 2786.3 1612.7 2802.9 1615.4 2818.9 1617.5 2826.4 1618.5 2828.5 1619.3 2829.3 1620.0 2829.4 1620.7 2828.9 1622.1 2826.0 1624.8 2817.2 1626.7 2808.4 1632.5 2771.8 1636.6 2738.3 1642.1 2698.2 1643.0 2693.0 1644.2 2689.2 1646.0 2685.4 1648.3 2682.5 1650.6 2680.7 1653.4 2679.8 1655.8 2679.9 1658.1 2680.8 1659.9 2682.0 1663.5 2685.0 1665.8 2686.3 1668.1 2686.7 1670.3 2686.0 1672.1 2684.7 1674.3 2682.4 1678.5 2676.8 1680.2 2673.0 1681.6 2667.4 1687.8 2630.2 1691.8 2603.7 1697.3 2572.2 1707.7 2504.5 1713.8 2463.7 1719.6 2417.3 1721.9 2395.9 1726.1 2350.1 1729.4 2305.5 1733.7 2253.7 1736.2 2215.3 1738.2 2191.6 1746.1 2124.0 1747.3 2116.9 1748.8 2110.1 1749.9 2106.5 1750.9 2104.8 1751.7 2104.6 1752.4 2105.2 1753.8 2108.4 1755.6 2115.9 1756.8 2123.8 1760.7 2169.9 1764.3 2222.6 1766.7 2270.0 1768.4 2316.7 1772.1 2402.1 1773.7 2431.1 1775.2 2475.8 1777.6 2526.8 1779.0 2567.2 1782.4 2627.4 1784.3 2679.6 1786.1 2711.3 1788.3 2740.2 1790.3 2769.4 1791.9 2785.3 1794.2 2802.2 1796.9 2818.4 1799.0 2826.1 1799.9 2828.3 1800.8 2829.3 1801.5 2829.4 1802.2 2829.0 1803.6 2826.2 1806.4 2817.4 1808.3 2808.6 1814.1 2771.8 1818.2 2738.3 1823.7 2698.2 1824.6 2693.0 1825.8 2689.2 1827.6 2685.4 1829.9 2682.5 1832.2 2680.7 1835.0 2679.8 1837.4 2679.9 1839.7 2680.8 1841.5 2682.0 1845.1 2685.0 1847.4 2686.3 1849.7 2686.7 1851.9 2686.0 1853.7 2684.7 1855.9 2682.4 1860.1 2676.8 1861.8 2673.0 1863.2 2667.4 1869.4 2630.2 1873.4 2603.7 1878.9 2572.2 1889.3 2504.5 1895.4 2463.7 1901.2 2417.3 1903.5 2395.9 1907.7 2350.1 1911.0 2305.5 1915.3 2253.7 1917.8 2215.3 1919.8 2191.6 1927.7 2124.0 1930.3 2110.3 1931.4 2106.7 1932.4 2104.9 1933.0 2104.6 1933.8 2105.0 1934.6 2106.1 1935.3 2107.9 1937.1 2115.4 1938.4 2123.6 1942.3 2169.7 1945.9 2222.1 1948.3 2270.0 1950.0 2316.7 1953.7 2402.1 1955.3 2431.1 1956.8 2475.8 1959.2 2526.8 1960.6 2567.2 1964.0 2627.4 1965.9 2679.6 1967.7 2711.3 1969.9 2740.2 1971.8 2768.9 1973.3 2783.8 1975.7 2801.2 1978.4 2817.9 1980.3 2825.4 1981.2 2827.7 1982.1 2829.1 1983.0 2829.4 1983.6 2829.1 1984.3 2828.2 1985.0 2826.7 1987.9 2817.6 1989.8 2808.9 1995.7 2771.8 1999.8 2738.3 2005.3 2698.2 2006.2 2693.0 2007.4 2689.2 2009.2 2685.4 2011.5 2682.5 2013.8 2680.7 2016.6 2679.8 2019.0 2679.9 2021.3 2680.8 2023.1 2682.0 2026.7 2685.0 2029.0 2686.3 2031.3 2686.7 2033.5 2686.0 2035.3 2684.7 2037.5 2682.4 2041.7 2676.8 2043.4 2673.0 2044.8 2667.4 2051.0 2630.2 2055.0 2603.7 2060.5 2572.2 2070.9 2504.5 2077.0 2463.7 2082.9 2417.1 2085.1 2395.7 2089.3 2350.1 2092.6 2305.5 2096.9 2253.4 2099.4 2215.5 2101.4 2192.1 2109.2 2124.8 2111.6 2111.8 2112.7 2107.4 2113.6 2105.3 2114.4 2104.7 2115.2 2104.8 2115.9 2105.6 2116.5 2107.0 2118.4 2113.7 2119.7 2121.9 2123.6 2165.7 2126.4 2205.6 2128.0 2231.3 2129.7 2266.2 2131.7 2319.2 2135.5 2405.4 2136.9 2431.8 2138.4 2475.3 2140.8 2526.8 2142.2 2565.2 2145.7 2629.4 2147.4 2676.3 2148.7 2701.6 2153.3 2766.9 2154.5 2779.8 2156.9 2798.7 2159.6 2816.0 2161.2 2823.0 2163.0 2828.1 2163.9 2829.2 2164.7 2829.4 2165.5 2828.9 2166.2 2827.6 2169.3 2818.4 2171.2 2810.1 2177.3 2772.1 2181.4 2738.3 2186.9 2698.2 2187.9 2692.8 2189.1 2689.0 2190.8 2685.4 2193.1 2682.5 2195.4 2680.7 2198.2 2679.8 2200.6 2679.9 2202.9 2680.8 2204.7 2682.0 2208.3 2685.0 2210.6 2686.3 2212.7 2686.7 2214.7 2686.2 2216.3 2685.2 2218.3 2683.3 2222.2 2678.5 2224.4 2674.8 2225.7 2670.6 2232.0 2633.4 2236.6 2603.5 2242.1 2571.7 2257.1 2474.3 2259.5 2457.0 2264.7 2415.1 2267.9 2383.0"/>
<path stroke="#EDB120" d="M289.0 2227.9L290.5 2232.5 293.0 2242.4 296.2 2253.7 300.1 2266.7 304.9 2280.9 309.7 2293.0 313.4 2300.6 315.2 2303.6 316.5 2305.3 317.6 2306.3 319.1 2307.1 324.7 2308.6 325.7 2309.2 326.6 2310.3 328.0 2313.6 329.5 2319.4 330.2 2322.9 334.5 2377.9 336.6 2411.6 339.9 2453.2 341.9 2496.4 343.9 2527.4 346.0 2566.6 349.1 2612.2 352.7 2673.1 355.8 2713.0 360.0 2758.0 365.3 2796.7 367.5 2810.5 368.8 2816.6 370.7 2822.8 373.0 2827.2 374.4 2828.8 375.9 2829.7 377.3 2829.5 378.7 2828.5 380.9 2825.9 383.1 2822.2 384.7 2818.6 385.8 2814.7 389.7 2792.6 391.2 2782.7 394.3 2756.9 401.4 2701.8 406.5 2655.9 407.9 2639.9 409.9 2611.8 411.8 2596.1 412.4 2589.4 416.2 2510.0 419.0 2463.6 420.5 2425.8 422.3 2390.6 426.2 2329.8 429.2 2292.1 430.4 2281.4 431.6 2272.3 435.5 2247.8 438.5 2232.1 440.1 2226.9 442.2 2222.9 444.7 2219.9 445.8 2219.2 447.1 2218.9 448.8 2219.4 450.7 2221.2 452.7 2224.4 454.4 2228.2 455.8 2232.5 458.4 2242.7 461.7 2254.5 466.1 2269.0 471.7 2284.9 476.5 2296.4 479.8 2302.6 482.2 2305.7 484.6 2307.2 490.0 2308.6 491.8 2310.1 493.1 2312.9 495.3 2321.6 496.1 2329.1 497.3 2347.8 499.8 2377.7 501.9 2411.6 505.2 2454.0 507.3 2499.2 509.2 2527.4 511.3 2566.6 514.3 2612.0 518.1 2675.6 521.3 2716.0 525.1 2756.3 529.4 2789.0 531.7 2803.6 533.7 2814.9 535.9 2822.6 537.4 2825.7 539.0 2828.2 540.6 2829.5 542.2 2829.7 543.9 2828.7 545.7 2826.5 548.0 2822.9 549.7 2819.3 550.6 2816.4 551.4 2813.0 556.0 2785.9 566.3 2705.1 569.1 2681.2 571.6 2657.6 573.2 2640.4 575.2 2611.5 577.4 2593.1 578.2 2579.2 581.6 2507.2 584.2 2464.1 585.8 2424.6 587.8 2386.9 591.8 2325.3 595.1 2286.7 596.4 2275.5 600.3 2250.8 603.9 2231.6 605.5 2226.7 607.6 2222.7 610.1 2219.8 611.3 2219.1 612.4 2218.9 614.1 2219.4 615.9 2221.2 617.9 2224.4 619.7 2228.2 621.1 2232.5 623.6 2242.7 627.0 2254.5 631.4 2269.0 636.9 2284.6 641.7 2296.2 644.9 2302.3 647.4 2305.7 649.9 2307.2 655.3 2308.6 657.1 2310.1 658.4 2313.1 660.6 2322.1 661.4 2329.1 662.6 2347.8 665.1 2377.7 667.2 2411.9 670.4 2452.2 672.6 2498.9 674.5 2527.4 676.5 2566.1 679.6 2612.5 682.8 2666.4 684.8 2694.3 687.8 2729.4 691.0 2762.0 695.4 2793.9 698.4 2812.5 700.2 2819.7 702.3 2825.1 703.4 2827.0 704.6 2828.5 705.9 2829.5 707.1 2829.7 708.8 2829.0 710.9 2826.7 713.4 2822.7 715.2 2818.6 716.6 2813.3 720.1 2793.3 722.4 2778.2 724.8 2757.1 731.2 2708.3 734.3 2682.0 737.0 2657.1 738.5 2640.2 740.5 2611.8 742.4 2595.6 743.0 2587.9 746.8 2510.5 749.5 2463.8 751.1 2424.1 753.2 2384.4 757.4 2321.3 759.4 2296.6 760.9 2281.4 766.1 2247.6 768.4 2235.1 769.9 2229.0 770.9 2226.2 772.2 2223.8 773.7 2221.5 775.2 2219.9 776.6 2219.1 778.0 2218.9 779.2 2219.3 780.4 2220.3 783.1 2224.1 785.4 2229.4 791.4 2251.6 796.2 2267.4 801.4 2282.5 806.1 2294.3 809.7 2301.5 811.3 2304.0 812.5 2305.5 813.7 2306.4 815.2 2307.2 820.6 2308.6 821.5 2309.2 822.5 2310.3 823.8 2313.4 826.0 2322.4 826.7 2329.1 827.9 2347.8 830.4 2377.9 832.5 2411.9 835.6 2452.2 837.9 2498.9 839.7 2527.4 841.8 2566.1 844.9 2612.5 848.1 2666.4 850.1 2694.3 853.1 2729.4 856.3 2762.0 860.7 2793.9 863.7 2812.5 865.5 2819.7 867.6 2825.1 868.7 2827.0 869.9 2828.5 871.2 2829.5 872.3 2829.7 874.1 2829.0 876.2 2826.7 878.7 2822.7 880.5 2818.6 881.9 2813.3 885.4 2793.3 887.6 2778.2 890.1 2757.1 896.5 2708.3 899.6 2682.0 902.2 2657.1 903.8 2640.2 905.8 2611.8 907.7 2595.6 908.3 2587.9 912.0 2510.5 914.8 2463.8 916.4 2424.1 918.5 2384.7 922.7 2321.5 924.6 2296.9 926.2 2281.7 931.3 2247.8 933.6 2235.3 935.0 2229.5 936.0 2226.7 937.2 2224.2 938.7 2221.9 940.2 2220.2 941.5 2219.3 942.7 2218.9 944.1 2219.1 945.2 2219.8 946.5 2221.2 948.0 2223.5 950.6 2229.2 956.9 2252.3 961.5 2267.6 966.7 2282.7 971.5 2294.6 975.0 2301.5 976.6 2304.0 977.8 2305.5 979.0 2306.4 980.5 2307.2 985.9 2308.6 986.8 2309.2 987.8 2310.3 989.1 2313.4 991.2 2322.4 991.9 2329.1 993.2 2347.8 995.7 2377.9 997.8 2411.9 1000.9 2452.2 1003.1 2498.9 1005.0 2527.4 1007.1 2566.1 1010.2 2612.5 1013.4 2666.4 1015.4 2694.3 1018.3 2729.4 1021.6 2762.0 1026.0 2793.9 1029.0 2812.5 1030.8 2819.7 1032.9 2825.1 1034.0 2827.0 1035.2 2828.5 1036.4 2829.5 1037.6 2829.7 1039.3 2829.0 1041.4 2826.7 1044.0 2822.7 1045.8 2818.6 1047.2 2813.3 1050.7 2793.3 1052.9 2778.2 1055.4 2757.1 1061.8 2708.3 1064.9 2682.0 1067.5 2657.1 1069.0 2640.2 1071.1 2611.8 1073.0 2595.6 1073.6 2587.9 1077.3 2510.5 1080.1 2463.8 1081.7 2424.1 1083.8 2384.7 1088.0 2321.5 1089.9 2297.1 1091.4 2281.9 1096.5 2248.1 1098.8 2235.5 1100.2 2229.7 1102.1 2224.8 1103.4 2222.7 1104.9 2220.8 1106.4 2219.5 1107.6 2219.0 1108.7 2218.9 1109.9 2219.4 1111.3 2220.6 1112.9 2222.8 1114.5 2225.7 1115.8 2228.9 1122.3 2252.8 1126.9 2267.9 1132.1 2283.0 1136.9 2294.8 1140.4 2301.7 1141.8 2304.0 1143.1 2305.5 1144.2 2306.4 1145.7 2307.2 1151.1 2308.6 1152.1 2309.2 1153.0 2310.3 1154.4 2313.4 1156.5 2322.4 1157.2 2329.1 1158.4 2347.8 1160.9 2377.9 1163.0 2411.9 1166.2 2452.2 1168.4 2498.9 1170.3 2527.4 1172.4 2566.1 1175.5 2612.5 1178.6 2666.4 1180.6 2694.3 1183.6 2729.4 1186.9 2762.0 1191.3 2793.9 1194.3 2812.5 1196.1 2819.7 1198.2 2825.1 1199.3 2827.0 1200.5 2828.5 1201.7 2829.5 1202.9 2829.7 1204.6 2829.0 1206.7 2826.7 1209.2 2822.7 1211.1 2818.6 1212.5 2813.3 1216.0 2793.3 1218.2 2778.2 1220.7 2757.1 1227.0 2708.3 1230.2 2682.0 1232.8 2657.1 1234.3 2640.2 1236.3 2611.8 1238.3 2595.6 1238.9 2587.9 1242.6 2510.5 1245.4 2463.8 1247.0 2424.1 1249.1 2384.7 1253.2 2321.5 1255.2 2297.1 1256.7 2281.9 1261.8 2248.3 1264.1 2235.8 1265.4 2230.0 1267.3 2225.1 1268.6 2222.9 1270.0 2220.9 1271.5 2219.6 1272.6 2219.0 1273.8 2218.9 1275.0 2219.3 1276.4 2220.5 1278.1 2222.6 1279.7 2225.7 1281.1 2228.9 1287.6 2252.8 1292.1 2267.9 1297.5 2283.2 1302.3 2295.0 1305.7 2301.7 1307.1 2304.0 1308.4 2305.5 1309.5 2306.4 1311.0 2307.2 1316.4 2308.6 1317.4 2309.2 1318.3 2310.3 1319.6 2313.4 1321.8 2322.4 1322.5 2329.1 1323.7 2347.8 1326.2 2377.9 1328.3 2411.9 1331.5 2452.2 1333.7 2498.9 1335.6 2527.4 1337.6 2566.1 1340.8 2612.5 1343.9 2666.4 1345.9 2694.3 1348.9 2729.4 1352.2 2762.0 1356.6 2793.9 1359.6 2812.5 1361.4 2819.7 1363.4 2825.1 1364.6 2827.0 1365.8 2828.5 1367.0 2829.5 1368.2 2829.7 1369.9 2829.0 1372.0 2826.7 1374.5 2822.7 1376.3 2818.6 1377.8 2813.3 1381.3 2793.3 1383.5 2778.2 1386.0 2757.1 1392.3 2708.3 1395.5 2682.0 1398.1 2657.1 1399.6 2640.2 1401.6 2611.8 1403.5 2595.6 1404.1 2587.9 1407.9 2510.5 1410.6 2463.8 1412.3 2424.1 1414.3 2384.7 1418.5 2321.5 1420.5 2297.1 1422.0 2281.9 1427.1 2248.3 1429.3 2235.8 1430.7 2230.0 1432.6 2225.1 1433.8 2222.9 1435.3 2220.9 1436.5 2219.8 1437.7 2219.1 1439.1 2218.9 1440.1 2219.2 1441.6 2220.3 1443.2 2222.4 1444.9 2225.5 1446.4 2228.9 1452.9 2253.0 1457.5 2268.1 1462.8 2283.4 1467.6 2295.2 1470.9 2301.7 1472.4 2304.0 1473.7 2305.5 1474.8 2306.4 1476.3 2307.2 1481.7 2308.6 1482.7 2309.2 1483.6 2310.3 1484.9 2313.4 1487.1 2322.4 1487.8 2329.1 1489.0 2347.8 1491.5 2377.9 1493.6 2411.9 1496.8 2452.2 1499.0 2498.9 1500.9 2527.4 1502.9 2566.1 1506.0 2612.5 1509.2 2666.4 1511.2 2694.3 1514.2 2729.4 1517.4 2762.0 1521.8 2793.9 1524.8 2812.5 1526.6 2819.7 1528.7 2825.1 1529.8 2827.0 1531.0 2828.5 1532.3 2829.5 1533.5 2829.7 1535.2 2829.0 1537.3 2826.7 1539.8 2822.7 1541.6 2818.6 1543.0 2813.3 1546.5 2793.3 1548.8 2778.2 1551.2 2757.1 1557.6 2708.3 1560.7 2682.0 1563.4 2657.1 1564.9 2640.2 1566.9 2611.8 1568.8 2595.6 1569.4 2587.6 1573.1 2510.7 1575.9 2463.8 1577.5 2424.1 1579.6 2384.9 1583.8 2321.8 1585.7 2297.4 1587.2 2282.2 1592.3 2248.6 1594.6 2235.8 1595.9 2230.2 1597.8 2225.3 1600.3 2221.3 1601.6 2219.9 1602.8 2219.2 1604.0 2218.9 1605.2 2219.1 1606.7 2220.1 1608.3 2222.2 1610.1 2225.2 1611.6 2228.7 1612.8 2232.7 1615.3 2242.4 1618.3 2253.3 1622.8 2268.1 1628.1 2283.4 1632.9 2295.2 1636.2 2301.7 1637.7 2304.0 1638.9 2305.5 1640.1 2306.4 1641.6 2307.2 1647.0 2308.6 1647.9 2309.2 1648.9 2310.3 1650.2 2313.4 1652.4 2322.4 1653.1 2329.1 1654.3 2347.8 1656.8 2377.9 1658.9 2411.9 1662.0 2452.2 1664.3 2498.9 1666.1 2527.4 1668.2 2566.1 1671.3 2612.5 1674.5 2666.4 1676.5 2694.3 1679.5 2729.4 1682.7 2762.0 1687.1 2793.9 1690.1 2812.5 1691.9 2819.7 1694.0 2825.1 1695.1 2827.0 1696.3 2828.5 1697.6 2829.5 1698.7 2829.7 1700.5 2829.0 1702.6 2826.7 1705.1 2822.7 1706.9 2818.6 1708.3 2813.3 1711.8 2793.3 1714.0 2778.2 1716.5 2757.1 1722.9 2708.3 1726.0 2682.0 1728.6 2657.1 1730.2 2640.2 1732.2 2611.8 1734.1 2595.6 1734.7 2587.6 1738.4 2510.7 1741.2 2463.8 1742.8 2424.1 1744.9 2384.9 1749.1 2321.8 1751.0 2297.4 1752.5 2282.2 1757.6 2248.6 1759.9 2235.8 1761.2 2230.2 1763.0 2225.3 1765.6 2221.3 1766.9 2219.9 1768.1 2219.2 1769.3 2218.9 1770.5 2219.1 1771.9 2220.1 1773.6 2222.2 1775.4 2225.2 1776.8 2228.7 1778.1 2232.7 1780.5 2242.4 1783.6 2253.3 1788.1 2268.1 1793.4 2283.4 1798.2 2295.2 1801.5 2301.7 1803.0 2304.0 1804.2 2305.5 1805.4 2306.4 1806.9 2307.2 1812.3 2308.6 1813.2 2309.2 1814.2 2310.3 1815.5 2313.4 1817.6 2322.4 1818.3 2329.1 1819.6 2347.8 1822.1 2377.9 1824.2 2411.9 1827.3 2452.2 1829.5 2498.9 1831.4 2527.4 1833.5 2566.1 1836.6 2612.5 1839.8 2666.4 1841.8 2694.3 1844.7 2729.4 1848.0 2762.0 1852.4 2793.9 1855.4 2812.5 1857.2 2819.7 1859.3 2825.1 1860.4 2827.0 1861.6 2828.5 1862.8 2829.5 1864.0 2829.7 1865.7 2829.0 1867.8 2826.7 1870.4 2822.7 1872.2 2818.6 1873.6 2813.3 1877.1 2793.3 1879.3 2778.2 1881.8 2757.1 1888.2 2708.3 1891.3 2682.0 1893.9 2657.1 1895.4 2640.2 1897.5 2611.8 1899.4 2595.6 1900.0 2587.6 1903.7 2510.7 1906.5 2463.8 1908.1 2424.1 1910.2 2384.9 1914.3 2321.8 1916.3 2297.4 1917.8 2282.2 1922.9 2248.6 1925.1 2236.0 1926.4 2230.4 1928.2 2225.5 1930.7 2221.5 1932.0 2220.1 1933.2 2219.3 1934.4 2218.9 1935.5 2219.0 1937.1 2220.0 1938.8 2222.0 1940.6 2225.2 1942.1 2228.7 1943.4 2232.7 1945.8 2242.4 1948.9 2253.5 1953.4 2268.3 1958.8 2283.9 1963.6 2295.5 1967.0 2302.1 1968.4 2304.2 1969.7 2305.7 1972.1 2307.2 1977.5 2308.6 1979.3 2310.1 1980.7 2313.1 1982.9 2322.4 1983.6 2329.1 1984.8 2347.8 1987.3 2377.9 1989.4 2411.9 1992.6 2452.2 1994.8 2498.9 1996.7 2527.4 1998.8 2566.1 2001.9 2612.5 2005.0 2666.4 2007.0 2694.3 2010.0 2729.4 2013.3 2762.0 2017.7 2793.9 2020.7 2812.5 2022.5 2819.7 2024.6 2825.1 2025.7 2827.0 2026.9 2828.5 2028.1 2829.5 2029.3 2829.7 2031.0 2829.0 2033.1 2826.7 2035.6 2822.7 2037.5 2818.6 2038.9 2813.3 2042.4 2793.3 2044.6 2778.2 2047.1 2757.1 2053.4 2708.3 2056.6 2682.0 2059.2 2657.1 2060.7 2640.2 2062.7 2611.8 2064.7 2595.6 2065.3 2587.6 2069.0 2510.7 2071.8 2463.8 2073.4 2424.1 2075.4 2384.9 2079.6 2321.8 2081.6 2297.4 2083.1 2282.2 2088.1 2248.6 2090.4 2236.0 2091.7 2230.4 2093.5 2225.5 2096.0 2221.5 2097.3 2220.1 2098.4 2219.3 2099.7 2218.9 2100.8 2219.0 2102.3 2220.0 2104.0 2222.0 2105.9 2225.2 2107.4 2228.7 2108.7 2232.7 2111.1 2242.4 2114.2 2253.5 2118.7 2268.3 2124.1 2283.9 2128.9 2295.5 2132.3 2302.1 2133.7 2304.2 2135.0 2305.7 2137.4 2307.2 2142.8 2308.6 2144.6 2310.1 2146.0 2313.1 2148.2 2322.4 2148.9 2329.1 2150.1 2347.8 2152.6 2377.9 2154.7 2411.9 2157.9 2452.2 2160.1 2498.9 2162.0 2527.4 2164.0 2566.1 2167.2 2612.5 2170.3 2666.4 2172.3 2694.3 2175.3 2729.4 2178.6 2762.0 2183.0 2793.9 2186.0 2812.5 2187.8 2819.7 2189.8 2825.1 2191.0 2827.0 2192.2 2828.5 2193.4 2829.5 2194.6 2829.7 2196.3 2829.0 2198.4 2826.7 2200.9 2822.7 2202.7 2818.6 2204.2 2813.3 2207.7 2793.3 2209.9 2778.2 2212.4 2757.1 2218.7 2708.3 2221.9 2682.0 2224.5 2657.1 2226.0 2640.2 2228.0 2611.8 2229.9 2595.6 2230.5 2587.9 2234.3 2510.5 2237.0 2463.8 2238.7 2424.1 2240.8 2384.4 2244.9 2321.3 2246.9 2296.6 2248.4 2281.4 2253.6 2247.6 2255.9 2235.1 2257.4 2229.0 2258.5 2226.2 2259.7 2223.8 2261.2 2221.5 2262.8 2219.9 2264.1 2219.1 2265.5 2218.9 2266.7 2219.3 2267.9 2220.2"/>
</g>
<path d="M371.3 2967.0V2982.0M371.3 1720.0V1734.7M554.3 2967.0V2982.0M554.3 1720.0V1734.7M737.4 2967.0V2982.0M737.4 1720.0V1734.7M920.4 2967.0V2982.0M920.4 1720.0V1734.7M1103.4 2967.0V2982.0M1103.4 1720.0V1734.7M1286.5 2967.0V2982.0M1286.5 1720.0V1734.7M1469.5 2967.0V2982.0M1469.5 1720.0V1734.7M1652.5 2967.0V2982.0M1652.5 1720.0V1734.7M1835.5 2967.0V2982.0M1835.5 1720.0V1734.7M2018.6 2967.0V2982.0M2018.6 1720.0V1734.7M2201.6 2967.0V2982.0M2201.6 1720.0V1734.7M289.4 1989.5H309.6M289.4 2273.5H309.6M289.4 2521.5H309.6M289.4 2790.5H309.6" stroke="#262626" stroke-width="6.6" stroke-linecap="round" fill="none"/>
<g stroke-width="8.6" stroke-linecap="round">
<line x1="1231.7" y1="1785.6" x2="1677.1" y2="1785.6" stroke="#0071C3"/>
<line x1="1231.7" y1="1866.7" x2="1677.1" y2="1866.7" stroke="#E97110"/>
<line x1="1231.7" y1="1948.0" x2="1677.1" y2="1948.0" stroke="#FDBE02"/>
</g>
<text transform="translate(1713.8 1813.4) scale(1 1.026)" style='font-family:"Liberation Serif","Times New Roman",serif;font-weight:normal;font-size:93.3px'>Standard</text>
<text transform="translate(1718.3 1888.1) scale(1 1.026)" style='font-family:"Liberation Serif","Times New Roman",serif;font-weight:normal;font-size:93.3px'>Second-order</text>
<text transform="translate(1714.9 1961.9) scale(1 1.026)" style='font-family:"Liberation Serif","Times New Roman",serif;font-weight:normal;font-size:93.3px'>Higher-order</text>
<text transform="translate(107.7 2020.0) scale(1 1.030)" style='font-family:"Liberation Serif","Times New Roman",serif;font-weight:bold;font-size:93.5px'>3.50</text>
<text transform="translate(107.7 2305.0) scale(1 1.030)" style='font-family:"Liberation Serif","Times New Roman",serif;font-weight:bold;font-size:93.5px'>3.25</text>
<text transform="translate(104.7 2559.0) scale(1 1.030)" style='font-family:"Liberation Serif","Times New Roman",serif;font-weight:bold;font-size:93.5px'>3.00</text>
<text transform="translate(111.7 2824.0) scale(1 1.030)" style='font-family:"Liberation Serif","Times New Roman",serif;font-weight:bold;font-size:93.5px'>2.75</text>
<text transform="translate(320.2 3058.5) scale(1 1.030)" style='font-family:"Liberation Serif","Times New Roman",serif;font-weight:bold;font-size:93.5px'>30</text>
<text transform="translate(504.0 3058.5) scale(1 1.030)" style='font-family:"Liberation Serif","Times New Roman",serif;font-weight:bold;font-size:93.5px'>31</text>
<text transform="translate(687.7 3058.5) scale(1 1.030)" style='font-family:"Liberation Serif","Times New Roman",serif;font-weight:bold;font-size:93.5px'>32</text>
<text transform="translate(871.4 3058.5) scale(1 1.030)" style='font-family:"Liberation Serif","Times New Roman",serif;font-weight:bold;font-size:93.5px'>33</text>
<text transform="translate(1055.1 3058.5) scale(1 1.030)" style='font-family:"Liberation Serif","Times New Roman",serif;font-weight:bold;font-size:93.5px'>34</text>
<text transform="translate(1238.8 3058.5) scale(1 1.030)" style='font-family:"Liberation Serif","Times New Roman",serif;font-weight:bold;font-size:93.5px'>35</text>
<text transform="translate(1422.6 3058.5) scale(1 1.030)" style='font-family:"Liberation Serif","Times New Roman",serif;font-weight:bold;font-size:93.5px'>36</text>
<text transform="translate(1606.3 3058.5) scale(1 1.030)" style='font-family:"Liberation Serif","Times New Roman",serif;font-weight:bold;font-size:93.5px'>37</text>
<text transform="translate(1790.0 3058.5) scale(1 1.030)" style='font-family:"Liberation Serif","Times New Roman",serif;font-weight:bold;font-size:93.5px'>38</text>
<text transform="translate(1973.7 3058.5) scale(1 1.030)" style='font-family:"Liberation Serif","Times New Roman",serif;font-weight:bold;font-size:93.5px'>39</text>
<text transform="translate(2157.4 3058.5) scale(1 1.030)" style='font-family:"Liberation Serif","Times New Roman",serif;font-weight:bold;font-size:93.5px'>40</text>
<text transform="translate(91.0 2948.0) rotate(-90)" x="-0.0" style='font-family:"Liberation Serif","Times New Roman",serif;font-weight:bold;font-size:93.5px'>Vibration displacement(μm)</text>
<text transform="translate(1166.4 3131.4) scale(1 1.030)" style='font-family:"Liberation Serif","Times New Roman",serif;font-weight:bold;font-size:93.5px'>Period</text>
<text y="3256.2" style='font-family:"Liberation Serif","Times New Roman",serif;font-size:87.0px'><tspan x="1081.1">(</tspan><tspan x="1107.9" style="font-weight:bold">c</tspan><tspan x="1144.3">)</tspan></text>
</svg>
</body></html>
